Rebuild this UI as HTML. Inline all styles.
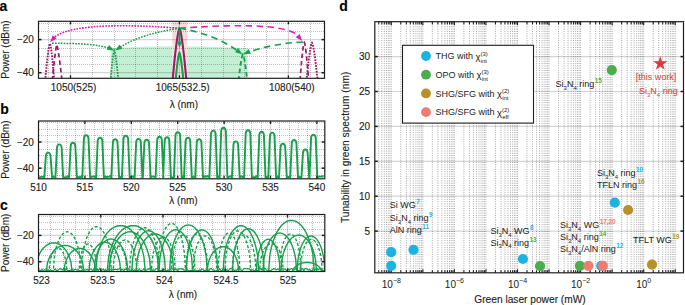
<!DOCTYPE html>
<html><head><meta charset="utf-8"><style>
html,body{margin:0;padding:0;background:#fff;overflow:hidden;width:685px;height:305px;}
svg{display:block;font-family:"Liberation Sans",sans-serif;} text{white-space:pre;} .t text, text{stroke-width:0.12px;}
</style></head><body>
<svg width="685" height="305" viewBox="0 0 685 305">
<defs>
<clipPath id="clipa"><rect x="38.5" y="21.3" width="286" height="57"/></clipPath>
<clipPath id="clipc"><rect x="38.5" y="214.5" width="286.3" height="57"/></clipPath>
</defs>
<rect width="685" height="305" fill="#fff"/>
<text x="-0.5" y="10.8" font-size="14" text-anchor="start" fill="#000" stroke="#000" font-weight="bold">a</text>
<text x="0.3" y="113.9" font-size="14" text-anchor="start" fill="#000" stroke="#000" font-weight="bold">b</text>
<text x="0" y="209.5" font-size="14" text-anchor="start" fill="#000" stroke="#000" font-weight="bold">c</text>
<text x="339.3" y="10.9" font-size="14" text-anchor="start" fill="#000" stroke="#000" font-weight="bold">d</text>
<rect x="172.2" y="21.3" width="15.2" height="57" fill="#f4dcdc"/>
<path d="M110.5 78.3 L110.5 48 Q179 44.2 247.5 48.3 L247.5 78.3 Z" fill="#c3efd4"/>
<rect x="172.2" y="44" width="15.2" height="34.3" fill="#f1e6df"/>
<line x1="48.5" y1="22" x2="48.5" y2="78.3" stroke="rgba(0,0,0,0.24)" stroke-width="1.0" stroke-dasharray="1 1"/>
<line x1="92.5" y1="22" x2="92.5" y2="78.3" stroke="rgba(0,0,0,0.24)" stroke-width="1.0" stroke-dasharray="1 1"/>
<line x1="114.5" y1="22" x2="114.5" y2="78.3" stroke="rgba(0,0,0,0.24)" stroke-width="1.0" stroke-dasharray="1 1"/>
<line x1="135.5" y1="22" x2="135.5" y2="78.3" stroke="rgba(0,0,0,0.24)" stroke-width="1.0" stroke-dasharray="1 1"/>
<line x1="157.5" y1="22" x2="157.5" y2="78.3" stroke="rgba(0,0,0,0.24)" stroke-width="1.0" stroke-dasharray="1 1"/>
<line x1="201.5" y1="22" x2="201.5" y2="78.3" stroke="rgba(0,0,0,0.24)" stroke-width="1.0" stroke-dasharray="1 1"/>
<line x1="223.5" y1="22" x2="223.5" y2="78.3" stroke="rgba(0,0,0,0.24)" stroke-width="1.0" stroke-dasharray="1 1"/>
<line x1="244.5" y1="22" x2="244.5" y2="78.3" stroke="rgba(0,0,0,0.24)" stroke-width="1.0" stroke-dasharray="1 1"/>
<line x1="266.5" y1="22" x2="266.5" y2="78.3" stroke="rgba(0,0,0,0.24)" stroke-width="1.0" stroke-dasharray="1 1"/>
<line x1="310.5" y1="22" x2="310.5" y2="78.3" stroke="rgba(0,0,0,0.24)" stroke-width="1.0" stroke-dasharray="1 1"/>
<line x1="39" y1="23.5" x2="324.5" y2="23.5" stroke="rgba(0,0,0,0.24)" stroke-width="1.0" stroke-dasharray="1 1"/>
<line x1="39" y1="31.5" x2="324.5" y2="31.5" stroke="rgba(0,0,0,0.24)" stroke-width="1.0" stroke-dasharray="1 1"/>
<line x1="39" y1="48.5" x2="324.5" y2="48.5" stroke="rgba(0,0,0,0.24)" stroke-width="1.0" stroke-dasharray="1 1"/>
<line x1="39" y1="56.5" x2="324.5" y2="56.5" stroke="rgba(0,0,0,0.24)" stroke-width="1.0" stroke-dasharray="1 1"/>
<line x1="39" y1="64.5" x2="324.5" y2="64.5" stroke="rgba(0,0,0,0.24)" stroke-width="1.0" stroke-dasharray="1 1"/>
<line x1="70.5" y1="21.3" x2="70.5" y2="78.3" stroke="rgba(0,0,0,0.17)" stroke-width="1.2" />
<line x1="179.44" y1="21.3" x2="179.44" y2="78.3" stroke="rgba(0,0,0,0.17)" stroke-width="1.2" />
<line x1="288.39" y1="21.3" x2="288.39" y2="78.3" stroke="rgba(0,0,0,0.17)" stroke-width="1.2" />
<line x1="38.5" y1="39.6" x2="324.5" y2="39.6" stroke="rgba(0,0,0,0.17)" stroke-width="1.2" />
<line x1="38.5" y1="72.7" x2="324.5" y2="72.7" stroke="rgba(0,0,0,0.17)" stroke-width="1.2" />
<g clip-path="url(#clipa)">
<path d="M172.6 80.5 L172.89 77.29 L173.17 74.15 L173.46 71.08 L173.75 68.08 L174.04 65.16 L174.32 62.31 L174.61 59.54 L174.9 56.85 L175.19 54.24 L175.47 51.72 L175.76 49.29 L176.05 46.95 L176.34 44.7 L176.62 42.56 L176.91 40.52 L177.2 38.59 L177.49 36.78 L177.78 35.09 L178.06 33.54 L178.35 32.13 L178.64 30.89 L178.93 29.85 L179.21 29.04 L179.5 28.6 L179.79 29.04 L180.07 29.85 L180.36 30.89 L180.65 32.13 L180.94 33.54 L181.22 35.09 L181.51 36.78 L181.8 38.59 L182.09 40.52 L182.38 42.56 L182.66 44.7 L182.95 46.95 L183.24 49.29 L183.53 51.72 L183.81 54.24 L184.1 56.85 L184.39 59.54 L184.68 62.31 L184.96 65.16 L185.25 68.08 L185.54 71.08 L185.83 74.15 L186.11 77.29 L186.4 80.5" stroke="#9a1b68" stroke-width="2.1" fill="none" />
<path d="M175.6 80.5 L175.76 78.79 L175.92 77.11 L176.07 75.47 L176.23 73.87 L176.39 72.31 L176.55 70.79 L176.71 69.31 L176.87 67.88 L177.03 66.49 L177.18 65.14 L177.34 63.84 L177.5 62.59 L177.66 61.4 L177.82 60.25 L177.97 59.16 L178.13 58.13 L178.29 57.16 L178.45 56.26 L178.61 55.43 L178.77 54.68 L178.93 54.02 L179.08 53.47 L179.24 53.04 L179.4 52.8 L179.57 53.04 L179.73 53.47 L179.9 54.02 L180.07 54.68 L180.23 55.43 L180.4 56.26 L180.57 57.16 L180.73 58.13 L180.9 59.16 L181.07 60.25 L181.23 61.4 L181.4 62.59 L181.57 63.84 L181.73 65.14 L181.9 66.49 L182.07 67.88 L182.23 69.31 L182.4 70.79 L182.57 72.31 L182.73 73.87 L182.9 75.47 L183.07 77.11 L183.23 78.79 L183.4 80.5" stroke="#17a04b" stroke-width="2.1" fill="none" />
<path d="M45.2 80.5 L45.4 78.22 L45.6 75.98 L45.8 73.8 L46 71.67 L46.2 69.59 L46.4 67.57 L46.6 65.6 L46.8 63.69 L47 61.83 L47.2 60.04 L47.4 58.31 L47.6 56.65 L47.8 55.05 L48 53.52 L48.2 52.07 L48.4 50.7 L48.6 49.41 L48.8 48.21 L49 47.11 L49.2 46.11 L49.4 45.23 L49.6 44.49 L49.8 43.91 L50 43.6 L50.17 43.91 L50.35 44.49 L50.52 45.23 L50.7 46.11 L50.88 47.11 L51.05 48.21 L51.23 49.41 L51.4 50.7 L51.58 52.07 L51.75 53.52 L51.93 55.05 L52.1 56.65 L52.27 58.31 L52.45 60.04 L52.62 61.83 L52.8 63.69 L52.98 65.6 L53.15 67.57 L53.33 69.59 L53.5 71.67 L53.68 73.8 L53.85 75.98 L54.03 78.22 L54.2 80.5" stroke="#9a1b68" stroke-width="1.9" fill="none" stroke-dasharray="1.7 1.2"/>
<path d="M52.3 80.5 L52.49 78.56 L52.67 76.65 L52.86 74.76 L53.05 72.9 L53.24 71.07 L53.42 69.27 L53.61 67.49 L53.8 65.75 L53.99 64.04 L54.17 62.36 L54.36 60.72 L54.55 59.12 L54.74 57.56 L54.92 56.04 L55.11 54.56 L55.3 53.13 L55.49 51.76 L55.67 50.44 L55.86 49.18 L56.05 48.01 L56.24 46.91 L56.42 45.92 L56.61 45.08 L56.8 44.5 L57.02 45.08 L57.23 45.92 L57.45 46.91 L57.67 48.01 L57.88 49.18 L58.1 50.44 L58.32 51.76 L58.53 53.13 L58.75 54.56 L58.97 56.04 L59.18 57.56 L59.4 59.12 L59.62 60.72 L59.83 62.36 L60.05 64.04 L60.27 65.75 L60.48 67.49 L60.7 69.27 L60.92 71.07 L61.13 72.9 L61.35 74.76 L61.57 76.65 L61.78 78.56 L62 80.5" stroke="#9a1b68" stroke-width="1.7" fill="none" stroke-dasharray="4.5 3"/>
<path d="M300 80.5 L300.18 78.14 L300.36 75.84 L300.54 73.58 L300.72 71.38 L300.9 69.24 L301.07 67.15 L301.25 65.11 L301.43 63.14 L301.61 61.23 L301.79 59.37 L301.97 57.59 L302.15 55.87 L302.33 54.22 L302.51 52.65 L302.69 51.15 L302.87 49.73 L303.05 48.4 L303.23 47.16 L303.4 46.02 L303.58 44.99 L303.76 44.08 L303.94 43.32 L304.12 42.72 L304.3 42.4 L304.48 42.72 L304.66 43.32 L304.84 44.08 L305.02 44.99 L305.2 46.02 L305.38 47.16 L305.55 48.4 L305.73 49.73 L305.91 51.15 L306.09 52.65 L306.27 54.22 L306.45 55.87 L306.63 57.59 L306.81 59.37 L306.99 61.23 L307.17 63.14 L307.35 65.11 L307.53 67.15 L307.7 69.24 L307.88 71.38 L308.06 73.58 L308.24 75.84 L308.42 78.14 L308.6 80.5" stroke="#9a1b68" stroke-width="1.7" fill="none" stroke-dasharray="4.5 3"/>
<path d="M306.5 80.5 L306.73 78.17 L306.96 75.89 L307.19 73.66 L307.42 71.48 L307.65 69.36 L307.88 67.29 L308.1 65.27 L308.33 63.32 L308.56 61.43 L308.79 59.6 L309.02 57.83 L309.25 56.13 L309.48 54.5 L309.71 52.94 L309.94 51.46 L310.17 50.06 L310.4 48.74 L310.62 47.51 L310.85 46.38 L311.08 45.37 L311.31 44.47 L311.54 43.71 L311.77 43.12 L312 42.8 L312.23 43.12 L312.47 43.71 L312.7 44.47 L312.93 45.37 L313.17 46.38 L313.4 47.51 L313.63 48.74 L313.87 50.06 L314.1 51.46 L314.33 52.94 L314.57 54.5 L314.8 56.13 L315.03 57.83 L315.27 59.6 L315.5 61.43 L315.73 63.32 L315.97 65.27 L316.2 67.29 L316.43 69.36 L316.67 71.48 L316.9 73.66 L317.13 75.89 L317.37 78.17 L317.6 80.5" stroke="#9a1b68" stroke-width="1.9" fill="none" stroke-dasharray="1.7 1.2"/>
<path d="M110.6 80.5 L110.75 78.64 L110.91 76.83 L111.06 75.05 L111.22 73.32 L111.37 71.63 L111.52 69.99 L111.68 68.38 L111.83 66.83 L111.99 65.32 L112.14 63.87 L112.3 62.46 L112.45 61.11 L112.6 59.81 L112.76 58.57 L112.91 57.39 L113.07 56.27 L113.22 55.23 L113.38 54.25 L113.53 53.35 L113.68 52.54 L113.84 51.83 L113.99 51.22 L114.15 50.76 L114.3 50.5 L114.47 50.76 L114.64 51.22 L114.81 51.83 L114.98 52.54 L115.15 53.35 L115.33 54.25 L115.5 55.23 L115.67 56.27 L115.84 57.39 L116.01 58.57 L116.18 59.81 L116.35 61.11 L116.52 62.46 L116.69 63.87 L116.86 65.32 L117.03 66.83 L117.2 68.38 L117.38 69.99 L117.55 71.63 L117.72 73.32 L117.89 75.05 L118.06 76.83 L118.23 78.64 L118.4 80.5" stroke="#17a04b" stroke-width="1.8" fill="none" stroke-dasharray="1.7 1.2"/>
<path d="M238.6 80.5 L238.78 78.87 L238.96 77.28 L239.14 75.73 L239.32 74.21 L239.5 72.73 L239.68 71.28 L239.85 69.88 L240.03 68.52 L240.21 67.19 L240.39 65.92 L240.57 64.68 L240.75 63.5 L240.93 62.36 L241.11 61.27 L241.29 60.24 L241.47 59.26 L241.65 58.34 L241.82 57.49 L242 56.7 L242.18 55.99 L242.36 55.36 L242.54 54.83 L242.72 54.42 L242.9 54.2 L243.08 54.42 L243.26 54.83 L243.44 55.36 L243.62 55.99 L243.8 56.7 L243.97 57.49 L244.15 58.34 L244.33 59.26 L244.51 60.24 L244.69 61.27 L244.87 62.36 L245.05 63.5 L245.23 64.68 L245.41 65.92 L245.59 67.19 L245.77 68.52 L245.95 69.88 L246.12 71.28 L246.3 72.73 L246.48 74.21 L246.66 75.73 L246.84 77.28 L247.02 78.87 L247.2 80.5" stroke="#17a04b" stroke-width="1.8" fill="none" stroke-dasharray="4.5 3"/>
</g>
<path d="M179.5 28.3 C140 25.2, 70 21.8, 53 38.5" stroke="#e01cb8" stroke-width="1.6" fill="none" stroke-dasharray="1.7 1.2"/>
<path d="M50.2 42.2 L52.72 35.17 L56.7 38.52 Z" fill="#e01cb8"/>
<path d="M179.5 28.3 C220 25.2, 290 21.8, 299.5 37.5" stroke="#e01cb8" stroke-width="1.6" fill="none" stroke-dasharray="6.5 4.5"/>
<path d="M302.2 41 L295.68 37.37 L299.63 33.99 Z" fill="#e01cb8"/>
<path d="M52 43.3 C80 43.3, 98 44.3, 110.5 48.5" stroke="#17a04b" stroke-width="1.5" fill="none" stroke-dasharray="1.7 1.2"/>
<path d="M114.2 50.5 L106.77 49.77 L109.05 45.09 Z" fill="#17a04b"/>
<path d="M179.5 28.3 C158 31.5, 135 37, 119 48" stroke="#17a04b" stroke-width="1.5" fill="none" stroke-dasharray="1.7 1.2"/>
<path d="M115.2 50.6 L119.42 44.44 L122.42 48.69 Z" fill="#17a04b"/>
<path d="M179.5 28.3 C203 32, 223 40, 238.5 51.5" stroke="#17a04b" stroke-width="1.6" fill="none" stroke-dasharray="6.5 4.5"/>
<path d="M242.3 54.3 L235.1 52.32 L238.14 48.1 Z" fill="#17a04b"/>
<path d="M303 42 C282 43, 262 47, 248 52.5" stroke="#17a04b" stroke-width="1.6" fill="none" stroke-dasharray="6.5 4.5"/>
<path d="M243.4 54.3 L248.67 49.01 L250.85 53.73 Z" fill="#17a04b"/>
<line x1="179.5" y1="30" x2="179.5" y2="43" stroke="#17a04b" stroke-width="1.8" />
<path d="M179.5 47.8 L176.9 41.6 L182.1 41.6 Z" fill="#17a04b"/>
<line x1="70.5" y1="78.3" x2="70.5" y2="75.3" stroke="#1e1e1e" stroke-width="1.3" />
<line x1="70.5" y1="21.3" x2="70.5" y2="24.3" stroke="#1e1e1e" stroke-width="1.3" />
<line x1="179.44" y1="78.3" x2="179.44" y2="75.3" stroke="#1e1e1e" stroke-width="1.3" />
<line x1="179.44" y1="21.3" x2="179.44" y2="24.3" stroke="#1e1e1e" stroke-width="1.3" />
<line x1="288.39" y1="78.3" x2="288.39" y2="75.3" stroke="#1e1e1e" stroke-width="1.3" />
<line x1="288.39" y1="21.3" x2="288.39" y2="24.3" stroke="#1e1e1e" stroke-width="1.3" />
<line x1="38.5" y1="39.6" x2="41.5" y2="39.6" stroke="#1e1e1e" stroke-width="1.5" />
<line x1="324.5" y1="39.6" x2="321.5" y2="39.6" stroke="#1e1e1e" stroke-width="1.5" />
<line x1="38.5" y1="72.7" x2="41.5" y2="72.7" stroke="#1e1e1e" stroke-width="1.5" />
<line x1="324.5" y1="72.7" x2="321.5" y2="72.7" stroke="#1e1e1e" stroke-width="1.5" />
<rect x="38.5" y="21.3" width="286" height="57" fill="none" stroke="#1e1e1e" stroke-width="1.2"/>
<text x="33.9" y="43.4" font-size="10" text-anchor="end" fill="#222" stroke="#222" >−20</text>
<text x="33.9" y="76.2" font-size="10" text-anchor="end" fill="#222" stroke="#222" >−40</text>
<text x="73.6" y="91.2" font-size="10" text-anchor="middle" fill="#222" stroke="#222" >1050(525)</text>
<text x="182.7" y="91.4" font-size="10" text-anchor="middle" fill="#222" stroke="#222" >1065(532.5)</text>
<text x="291.8" y="91.4" font-size="10" text-anchor="middle" fill="#222" stroke="#222" >1080(540)</text>
<text x="183.8" y="107.6" font-size="10" text-anchor="middle" fill="#222" stroke="#222" >λ (nm)</text>
<text x="0" y="0" font-size="10" text-anchor="middle" fill="#222" stroke="#222" transform="translate(9.4 49.6) rotate(-90)">Power (dBm)</text>
<line x1="47.5" y1="121" x2="47.5" y2="178.8" stroke="rgba(0,0,0,0.24)" stroke-width="1.0" stroke-dasharray="1 1"/>
<line x1="57.5" y1="121" x2="57.5" y2="178.8" stroke="rgba(0,0,0,0.24)" stroke-width="1.0" stroke-dasharray="1 1"/>
<line x1="66.5" y1="121" x2="66.5" y2="178.8" stroke="rgba(0,0,0,0.24)" stroke-width="1.0" stroke-dasharray="1 1"/>
<line x1="75.5" y1="121" x2="75.5" y2="178.8" stroke="rgba(0,0,0,0.24)" stroke-width="1.0" stroke-dasharray="1 1"/>
<line x1="94.5" y1="121" x2="94.5" y2="178.8" stroke="rgba(0,0,0,0.24)" stroke-width="1.0" stroke-dasharray="1 1"/>
<line x1="103.5" y1="121" x2="103.5" y2="178.8" stroke="rgba(0,0,0,0.24)" stroke-width="1.0" stroke-dasharray="1 1"/>
<line x1="112.5" y1="121" x2="112.5" y2="178.8" stroke="rgba(0,0,0,0.24)" stroke-width="1.0" stroke-dasharray="1 1"/>
<line x1="122.5" y1="121" x2="122.5" y2="178.8" stroke="rgba(0,0,0,0.24)" stroke-width="1.0" stroke-dasharray="1 1"/>
<line x1="140.5" y1="121" x2="140.5" y2="178.8" stroke="rgba(0,0,0,0.24)" stroke-width="1.0" stroke-dasharray="1 1"/>
<line x1="149.5" y1="121" x2="149.5" y2="178.8" stroke="rgba(0,0,0,0.24)" stroke-width="1.0" stroke-dasharray="1 1"/>
<line x1="159.5" y1="121" x2="159.5" y2="178.8" stroke="rgba(0,0,0,0.24)" stroke-width="1.0" stroke-dasharray="1 1"/>
<line x1="168.5" y1="121" x2="168.5" y2="178.8" stroke="rgba(0,0,0,0.24)" stroke-width="1.0" stroke-dasharray="1 1"/>
<line x1="186.5" y1="121" x2="186.5" y2="178.8" stroke="rgba(0,0,0,0.24)" stroke-width="1.0" stroke-dasharray="1 1"/>
<line x1="196.5" y1="121" x2="196.5" y2="178.8" stroke="rgba(0,0,0,0.24)" stroke-width="1.0" stroke-dasharray="1 1"/>
<line x1="205.5" y1="121" x2="205.5" y2="178.8" stroke="rgba(0,0,0,0.24)" stroke-width="1.0" stroke-dasharray="1 1"/>
<line x1="214.5" y1="121" x2="214.5" y2="178.8" stroke="rgba(0,0,0,0.24)" stroke-width="1.0" stroke-dasharray="1 1"/>
<line x1="233.5" y1="121" x2="233.5" y2="178.8" stroke="rgba(0,0,0,0.24)" stroke-width="1.0" stroke-dasharray="1 1"/>
<line x1="242.5" y1="121" x2="242.5" y2="178.8" stroke="rgba(0,0,0,0.24)" stroke-width="1.0" stroke-dasharray="1 1"/>
<line x1="251.5" y1="121" x2="251.5" y2="178.8" stroke="rgba(0,0,0,0.24)" stroke-width="1.0" stroke-dasharray="1 1"/>
<line x1="261.5" y1="121" x2="261.5" y2="178.8" stroke="rgba(0,0,0,0.24)" stroke-width="1.0" stroke-dasharray="1 1"/>
<line x1="279.5" y1="121" x2="279.5" y2="178.8" stroke="rgba(0,0,0,0.24)" stroke-width="1.0" stroke-dasharray="1 1"/>
<line x1="289.5" y1="121" x2="289.5" y2="178.8" stroke="rgba(0,0,0,0.24)" stroke-width="1.0" stroke-dasharray="1 1"/>
<line x1="298.5" y1="121" x2="298.5" y2="178.8" stroke="rgba(0,0,0,0.24)" stroke-width="1.0" stroke-dasharray="1 1"/>
<line x1="307.5" y1="121" x2="307.5" y2="178.8" stroke="rgba(0,0,0,0.24)" stroke-width="1.0" stroke-dasharray="1 1"/>
<line x1="39" y1="122.5" x2="324.8" y2="122.5" stroke="rgba(0,0,0,0.24)" stroke-width="1.0" stroke-dasharray="1 1"/>
<line x1="39" y1="129.5" x2="324.8" y2="129.5" stroke="rgba(0,0,0,0.24)" stroke-width="1.0" stroke-dasharray="1 1"/>
<line x1="39" y1="135.5" x2="324.8" y2="135.5" stroke="rgba(0,0,0,0.24)" stroke-width="1.0" stroke-dasharray="1 1"/>
<line x1="39" y1="149.5" x2="324.8" y2="149.5" stroke="rgba(0,0,0,0.24)" stroke-width="1.0" stroke-dasharray="1 1"/>
<line x1="39" y1="155.5" x2="324.8" y2="155.5" stroke="rgba(0,0,0,0.24)" stroke-width="1.0" stroke-dasharray="1 1"/>
<line x1="39" y1="162.5" x2="324.8" y2="162.5" stroke="rgba(0,0,0,0.24)" stroke-width="1.0" stroke-dasharray="1 1"/>
<line x1="39" y1="175.5" x2="324.8" y2="175.5" stroke="rgba(0,0,0,0.24)" stroke-width="1.0" stroke-dasharray="1 1"/>
<line x1="84.9" y1="121" x2="84.9" y2="178.8" stroke="rgba(0,0,0,0.17)" stroke-width="1.2" />
<line x1="131.3" y1="121" x2="131.3" y2="178.8" stroke="rgba(0,0,0,0.17)" stroke-width="1.2" />
<line x1="177.7" y1="121" x2="177.7" y2="178.8" stroke="rgba(0,0,0,0.17)" stroke-width="1.2" />
<line x1="224.1" y1="121" x2="224.1" y2="178.8" stroke="rgba(0,0,0,0.17)" stroke-width="1.2" />
<line x1="270.5" y1="121" x2="270.5" y2="178.8" stroke="rgba(0,0,0,0.17)" stroke-width="1.2" />
<line x1="316.9" y1="121" x2="316.9" y2="178.8" stroke="rgba(0,0,0,0.17)" stroke-width="1.2" />
<line x1="38.5" y1="142" x2="324.8" y2="142" stroke="rgba(0,0,0,0.17)" stroke-width="1.2" />
<line x1="38.5" y1="168.2" x2="324.8" y2="168.2" stroke="rgba(0,0,0,0.17)" stroke-width="1.2" />
<path d="M38.5 177.4 L40.1 177.09 L41.7 176.69 L43.3 176.92 L44.3 177.6 L45.9 155.6 Q46.3 152.6 48.2 152.6 Q50.1 152.6 50.5 155.6 L52.1 177.6 L53.7 176.61 L55.3 176.59 L55.4 177.6 L57 147.4 Q57.4 144.4 59.3 144.4 Q61.2 144.4 61.6 147.4 L63.2 177.6 L64.8 177.31 L66.4 177.38 L68 176.31 L69.1 177.6 L70.7 145.8 Q71.1 142.8 73 142.8 Q74.9 142.8 75.3 145.8 L76.9 177.6 L78.5 177.06 L80.1 177.1 L81.7 176.11 L82.3 177.6 L83.9 138.3 Q84.3 135.3 86.2 135.3 Q88.1 135.3 88.5 138.3 L90.1 177.6 L91.7 176.79 L93.3 176.31 L94.9 176.78 L96.1 177.6 L97.7 140.7 Q98.1 137.7 100 137.7 Q101.9 137.7 102.3 140.7 L103.9 177.6 L105.5 176.57 L107.1 177.2 L108.7 176.57 L110.3 176.27 L111.3 177.6 L112.9 142.3 Q113.3 139.3 115.2 139.3 Q117.1 139.3 117.5 142.3 L119.1 177.6 L120.7 176.72 L121.9 177.6 L123.5 138.7 Q123.9 135.7 125.8 135.7 Q127.7 135.7 128.1 138.7 L129.7 177.6 L131.3 176.44 L132.9 176.53 L134.5 177.32 L134.6 177.6 L136.2 141.9 Q136.6 138.9 138.5 138.9 Q140.4 138.9 140.8 141.9 L142.4 177.6 L142.8 177.6 L144.4 142.7 Q144.8 139.7 146.7 139.7 Q148.6 139.7 149 142.7 L150.6 177.6 L152.2 176.41 L153.8 176.63 L155.4 177.01 L155.6 177.6 L157.2 139.7 Q157.6 136.7 159.5 136.7 Q161.4 136.7 161.8 139.7 L163.4 177.6 L163.1 177.6 L164.7 140.3 Q165.1 137.3 167 137.3 Q168.9 137.3 169.3 140.3 L170.9 177.6 L172.5 177.36 L173.9 177.6 L175.5 135.2 Q175.9 132.2 177.8 132.2 Q179.7 132.2 180.1 135.2 L181.7 177.6 L183.3 176.27 L184 177.6 L185.6 140.7 Q186 137.7 187.9 137.7 Q189.8 137.7 190.2 140.7 L191.8 177.6 L193.4 176.79 L195 176.47 L195.2 177.6 L196.8 142.3 Q197.2 139.3 199.1 139.3 Q201 139.3 201.4 142.3 L203 177.6 L204.6 176.26 L206.2 176.47 L207.8 176.2 L209.4 176.89 L209.4 177.6 L211 133.6 Q211.4 130.6 213.3 130.6 Q215.2 130.6 215.6 133.6 L217.2 177.6 L218.8 176.36 L219.6 177.6 L221.2 130.8 Q221.6 127.8 223.5 127.8 Q225.4 127.8 225.8 130.8 L227.4 177.6 L229 176.82 L230.6 176.18 L231.9 177.6 L233.5 144.4 Q233.9 141.4 235.8 141.4 Q237.7 141.4 238.1 144.4 L239.7 177.6 L241.3 176.26 L242.9 177.27 L244.1 177.6 L245.7 133.2 Q246.1 130.2 248 130.2 Q249.9 130.2 250.3 133.2 L251.9 177.6 L253.5 177.22 L255.1 177.12 L256.7 176.14 L257.7 177.6 L259.3 134.8 Q259.7 131.8 261.6 131.8 Q263.5 131.8 263.9 134.8 L265.5 177.6 L267.1 176.83 L268.3 177.6 L269.9 135.6 Q270.3 132.6 272.2 132.6 Q274.1 132.6 274.5 135.6 L276.1 177.6 L277.7 176.59 L279 177.6 L280.6 146.8 Q281 143.8 282.9 143.8 Q284.8 143.8 285.2 146.8 L286.8 177.6 L288.4 177.01 L290 176.74 L290.2 177.6 L291.8 143 Q292.2 140 294.1 140 Q296 140 296.4 143 L298 177.6 L299.6 176.9 L301.2 176.94 L301.4 177.6 L303 152.5 Q303.4 149.5 305.3 149.5 Q307.2 149.5 307.6 152.5 L309.2 177.6 L309.5 177.6 L311.1 137.7 Q311.5 134.7 313.4 134.7 Q315.3 134.7 315.7 137.7 L317.3 177.6 L318.9 176.64 L320.5 176.64 L322.1 176.22 L323.7 176.51" stroke="#17a04b" stroke-width="1.9" fill="none" stroke-linejoin="round"/>
<line x1="84.9" y1="178.8" x2="84.9" y2="175.8" stroke="#1e1e1e" stroke-width="1.3" />
<line x1="84.9" y1="121" x2="84.9" y2="124" stroke="#1e1e1e" stroke-width="1.3" />
<line x1="131.3" y1="178.8" x2="131.3" y2="175.8" stroke="#1e1e1e" stroke-width="1.3" />
<line x1="131.3" y1="121" x2="131.3" y2="124" stroke="#1e1e1e" stroke-width="1.3" />
<line x1="177.7" y1="178.8" x2="177.7" y2="175.8" stroke="#1e1e1e" stroke-width="1.3" />
<line x1="177.7" y1="121" x2="177.7" y2="124" stroke="#1e1e1e" stroke-width="1.3" />
<line x1="224.1" y1="178.8" x2="224.1" y2="175.8" stroke="#1e1e1e" stroke-width="1.3" />
<line x1="224.1" y1="121" x2="224.1" y2="124" stroke="#1e1e1e" stroke-width="1.3" />
<line x1="270.5" y1="178.8" x2="270.5" y2="175.8" stroke="#1e1e1e" stroke-width="1.3" />
<line x1="270.5" y1="121" x2="270.5" y2="124" stroke="#1e1e1e" stroke-width="1.3" />
<line x1="316.9" y1="178.8" x2="316.9" y2="175.8" stroke="#1e1e1e" stroke-width="1.3" />
<line x1="316.9" y1="121" x2="316.9" y2="124" stroke="#1e1e1e" stroke-width="1.3" />
<line x1="38.5" y1="142" x2="41.5" y2="142" stroke="#1e1e1e" stroke-width="1.5" />
<line x1="324.8" y1="142" x2="321.8" y2="142" stroke="#1e1e1e" stroke-width="1.5" />
<line x1="38.5" y1="168.2" x2="41.5" y2="168.2" stroke="#1e1e1e" stroke-width="1.5" />
<line x1="324.8" y1="168.2" x2="321.8" y2="168.2" stroke="#1e1e1e" stroke-width="1.5" />
<rect x="38.5" y="121" width="286.3" height="57.8" fill="none" stroke="#1e1e1e" stroke-width="1.2"/>
<text x="33.9" y="145.6" font-size="10" text-anchor="end" fill="#222" stroke="#222" >−20</text>
<text x="33.9" y="171.8" font-size="10" text-anchor="end" fill="#222" stroke="#222" >−40</text>
<text x="38.5" y="190.6" font-size="10" text-anchor="middle" fill="#222" stroke="#222" >510</text>
<text x="84.9" y="190.6" font-size="10" text-anchor="middle" fill="#222" stroke="#222" >515</text>
<text x="131.3" y="190.6" font-size="10" text-anchor="middle" fill="#222" stroke="#222" >520</text>
<text x="177.7" y="190.6" font-size="10" text-anchor="middle" fill="#222" stroke="#222" >525</text>
<text x="224.1" y="190.6" font-size="10" text-anchor="middle" fill="#222" stroke="#222" >530</text>
<text x="270.5" y="190.6" font-size="10" text-anchor="middle" fill="#222" stroke="#222" >535</text>
<text x="316.9" y="190.6" font-size="10" text-anchor="middle" fill="#222" stroke="#222" >540</text>
<text x="183.5" y="203.9" font-size="10" text-anchor="middle" fill="#222" stroke="#222" >λ (nm)</text>
<text x="0" y="0" font-size="10" text-anchor="middle" fill="#222" stroke="#222" transform="translate(9.4 149.7) rotate(-90)">Power (dBm)</text>
<line x1="50.5" y1="215" x2="50.5" y2="271.5" stroke="rgba(0,0,0,0.24)" stroke-width="1.0" stroke-dasharray="1 1"/>
<line x1="63.5" y1="215" x2="63.5" y2="271.5" stroke="rgba(0,0,0,0.24)" stroke-width="1.0" stroke-dasharray="1 1"/>
<line x1="75.5" y1="215" x2="75.5" y2="271.5" stroke="rgba(0,0,0,0.24)" stroke-width="1.0" stroke-dasharray="1 1"/>
<line x1="88.5" y1="215" x2="88.5" y2="271.5" stroke="rgba(0,0,0,0.24)" stroke-width="1.0" stroke-dasharray="1 1"/>
<line x1="113.5" y1="215" x2="113.5" y2="271.5" stroke="rgba(0,0,0,0.24)" stroke-width="1.0" stroke-dasharray="1 1"/>
<line x1="125.5" y1="215" x2="125.5" y2="271.5" stroke="rgba(0,0,0,0.24)" stroke-width="1.0" stroke-dasharray="1 1"/>
<line x1="138.5" y1="215" x2="138.5" y2="271.5" stroke="rgba(0,0,0,0.24)" stroke-width="1.0" stroke-dasharray="1 1"/>
<line x1="150.5" y1="215" x2="150.5" y2="271.5" stroke="rgba(0,0,0,0.24)" stroke-width="1.0" stroke-dasharray="1 1"/>
<line x1="175.5" y1="215" x2="175.5" y2="271.5" stroke="rgba(0,0,0,0.24)" stroke-width="1.0" stroke-dasharray="1 1"/>
<line x1="187.5" y1="215" x2="187.5" y2="271.5" stroke="rgba(0,0,0,0.24)" stroke-width="1.0" stroke-dasharray="1 1"/>
<line x1="200.5" y1="215" x2="200.5" y2="271.5" stroke="rgba(0,0,0,0.24)" stroke-width="1.0" stroke-dasharray="1 1"/>
<line x1="212.5" y1="215" x2="212.5" y2="271.5" stroke="rgba(0,0,0,0.24)" stroke-width="1.0" stroke-dasharray="1 1"/>
<line x1="237.5" y1="215" x2="237.5" y2="271.5" stroke="rgba(0,0,0,0.24)" stroke-width="1.0" stroke-dasharray="1 1"/>
<line x1="250.5" y1="215" x2="250.5" y2="271.5" stroke="rgba(0,0,0,0.24)" stroke-width="1.0" stroke-dasharray="1 1"/>
<line x1="262.5" y1="215" x2="262.5" y2="271.5" stroke="rgba(0,0,0,0.24)" stroke-width="1.0" stroke-dasharray="1 1"/>
<line x1="275.5" y1="215" x2="275.5" y2="271.5" stroke="rgba(0,0,0,0.24)" stroke-width="1.0" stroke-dasharray="1 1"/>
<line x1="299.5" y1="215" x2="299.5" y2="271.5" stroke="rgba(0,0,0,0.24)" stroke-width="1.0" stroke-dasharray="1 1"/>
<line x1="312.5" y1="215" x2="312.5" y2="271.5" stroke="rgba(0,0,0,0.24)" stroke-width="1.0" stroke-dasharray="1 1"/>
<line x1="39" y1="216.5" x2="324.8" y2="216.5" stroke="rgba(0,0,0,0.24)" stroke-width="1.0" stroke-dasharray="1 1"/>
<line x1="39" y1="222.5" x2="324.8" y2="222.5" stroke="rgba(0,0,0,0.24)" stroke-width="1.0" stroke-dasharray="1 1"/>
<line x1="39" y1="229.5" x2="324.8" y2="229.5" stroke="rgba(0,0,0,0.24)" stroke-width="1.0" stroke-dasharray="1 1"/>
<line x1="39" y1="242.5" x2="324.8" y2="242.5" stroke="rgba(0,0,0,0.24)" stroke-width="1.0" stroke-dasharray="1 1"/>
<line x1="39" y1="249.5" x2="324.8" y2="249.5" stroke="rgba(0,0,0,0.24)" stroke-width="1.0" stroke-dasharray="1 1"/>
<line x1="39" y1="255.5" x2="324.8" y2="255.5" stroke="rgba(0,0,0,0.24)" stroke-width="1.0" stroke-dasharray="1 1"/>
<line x1="39" y1="268.5" x2="324.8" y2="268.5" stroke="rgba(0,0,0,0.24)" stroke-width="1.0" stroke-dasharray="1 1"/>
<line x1="100.75" y1="214.5" x2="100.75" y2="271.5" stroke="rgba(0,0,0,0.17)" stroke-width="1.2" />
<line x1="163" y1="214.5" x2="163" y2="271.5" stroke="rgba(0,0,0,0.17)" stroke-width="1.2" />
<line x1="225.25" y1="214.5" x2="225.25" y2="271.5" stroke="rgba(0,0,0,0.17)" stroke-width="1.2" />
<line x1="287.5" y1="214.5" x2="287.5" y2="271.5" stroke="rgba(0,0,0,0.17)" stroke-width="1.2" />
<line x1="38.5" y1="235.4" x2="324.8" y2="235.4" stroke="rgba(0,0,0,0.17)" stroke-width="1.2" />
<line x1="38.5" y1="261.7" x2="324.8" y2="261.7" stroke="rgba(0,0,0,0.17)" stroke-width="1.2" />
<g clip-path="url(#clipc)">
<path d="M35.2 273.5 L36.43 262.51 L37.67 258.23 L38.9 255.14 L40.13 252.7 L41.37 250.69 L42.6 249.02 L43.83 247.62 L45.07 246.44 L46.3 245.45 L47.53 244.65 L48.77 244.01 L50 243.52 L51.23 243.17 L52.47 242.97 L53.7 242.9 L54.93 242.97 L56.17 243.17 L57.4 243.52 L58.63 244.01 L59.87 244.65 L61.1 245.45 L62.33 246.44 L63.57 247.62 L64.8 249.02 L66.03 250.69 L67.27 252.7 L68.5 255.14 L69.73 258.23 L70.97 262.51 L72.2 273.5" stroke="#17a04b" stroke-width="1.4" fill="none" />
<path d="M46.1 273.5 L47.37 263.41 L48.63 259.48 L49.9 256.64 L51.17 254.4 L52.43 252.56 L53.7 251.02 L54.97 249.73 L56.23 248.65 L57.5 247.75 L58.77 247.01 L60.03 246.42 L61.3 245.97 L62.57 245.65 L63.83 245.46 L65.1 245.4 L66.37 245.46 L67.63 245.65 L68.9 245.97 L70.17 246.42 L71.43 247.01 L72.7 247.75 L73.97 248.65 L75.23 249.73 L76.5 251.02 L77.77 252.56 L79.03 254.4 L80.3 256.64 L81.57 259.48 L82.83 263.41 L84.1 273.5" stroke="#17a04b" stroke-width="1.4" fill="none" />
<path d="M63.8 273.5 L64.87 264.52 L65.93 261.03 L67 258.5 L68.07 256.5 L69.13 254.87 L70.2 253.5 L71.27 252.35 L72.33 251.39 L73.4 250.59 L74.47 249.93 L75.53 249.41 L76.6 249.01 L77.67 248.72 L78.73 248.56 L79.8 248.5 L80.87 248.56 L81.93 248.72 L83 249.01 L84.07 249.41 L85.13 249.93 L86.2 250.59 L87.27 251.39 L88.33 252.35 L89.4 253.5 L90.47 254.87 L91.53 256.5 L92.6 258.5 L93.67 261.03 L94.73 264.52 L95.8 273.5" stroke="#17a04b" stroke-width="1.4" fill="none" />
<path d="M88.8 273.5 L89.87 262.3 L90.93 257.93 L92 254.78 L93.07 252.29 L94.13 250.24 L95.2 248.54 L96.27 247.11 L97.33 245.91 L98.4 244.9 L99.47 244.08 L100.53 243.43 L101.6 242.93 L102.67 242.58 L103.73 242.37 L104.8 242.3 L105.87 242.37 L106.93 242.58 L108 242.93 L109.07 243.43 L110.13 244.08 L111.2 244.9 L112.27 245.91 L113.33 247.11 L114.4 248.54 L115.47 250.24 L116.53 252.29 L117.6 254.78 L118.67 257.93 L119.73 262.3 L120.8 273.5" stroke="#17a04b" stroke-width="1.4" fill="none" />
<path d="M95.5 273.5 L97.17 256.3 L98.83 249.6 L100.5 244.76 L102.17 240.93 L103.83 237.8 L105.5 235.18 L107.17 232.98 L108.83 231.14 L110.5 229.6 L112.17 228.34 L113.83 227.33 L115.5 226.57 L117.17 226.03 L118.83 225.71 L120.5 225.6 L122.17 225.71 L123.83 226.03 L125.5 226.57 L127.17 227.33 L128.83 228.34 L130.5 229.6 L132.17 231.14 L133.83 232.98 L135.5 235.18 L137.17 237.8 L138.83 240.93 L140.5 244.76 L142.17 249.6 L143.83 256.3 L145.5 273.5" stroke="#17a04b" stroke-width="1.4" fill="none" />
<path d="M107 273.5 L108.73 256.3 L110.47 249.6 L112.2 244.76 L113.93 240.93 L115.67 237.8 L117.4 235.18 L119.13 232.98 L120.87 231.14 L122.6 229.6 L124.33 228.34 L126.07 227.33 L127.8 226.57 L129.53 226.03 L131.27 225.71 L133 225.6 L134.73 225.71 L136.47 226.03 L138.2 226.57 L139.93 227.33 L141.67 228.34 L143.4 229.6 L145.13 231.14 L146.87 232.98 L148.6 235.18 L150.33 237.8 L152.07 240.93 L153.8 244.76 L155.53 249.6 L157.27 256.3 L159 273.5" stroke="#17a04b" stroke-width="1.4" fill="none" />
<path d="M94 273.5 L95.13 261.11 L96.27 256.29 L97.4 252.8 L98.53 250.04 L99.67 247.79 L100.8 245.9 L101.93 244.32 L103.07 242.99 L104.2 241.88 L105.33 240.97 L106.47 240.25 L107.6 239.7 L108.73 239.31 L109.87 239.08 L111 239 L112.13 239.08 L113.27 239.31 L114.4 239.7 L115.53 240.25 L116.67 240.97 L117.8 241.88 L118.93 242.99 L120.07 244.32 L121.2 245.9 L122.33 247.79 L123.47 250.04 L124.6 252.8 L125.73 256.29 L126.87 261.11 L128 273.5" stroke="#17a04b" stroke-width="1.4" fill="none" />
<path d="M108.9 273.5 L110.3 258.53 L111.7 252.7 L113.1 248.48 L114.5 245.15 L115.9 242.42 L117.3 240.14 L118.7 238.23 L120.1 236.62 L121.5 235.28 L122.9 234.18 L124.3 233.31 L125.7 232.64 L127.1 232.17 L128.5 231.89 L129.9 231.8 L131.3 231.89 L132.7 232.17 L134.1 232.64 L135.5 233.31 L136.9 234.18 L138.3 235.28 L139.7 236.62 L141.1 238.23 L142.5 240.14 L143.9 242.42 L145.3 245.15 L146.7 248.48 L148.1 252.7 L149.5 258.53 L150.9 273.5" stroke="#17a04b" stroke-width="1.4" fill="none" />
<path d="M131.6 273.5 L132.73 258.17 L133.87 252.2 L135 247.88 L136.13 244.47 L137.27 241.67 L138.4 239.34 L139.53 237.38 L140.67 235.73 L141.8 234.36 L142.93 233.24 L144.07 232.35 L145.2 231.66 L146.33 231.18 L147.47 230.89 L148.6 230.8 L149.73 230.89 L150.87 231.18 L152 231.66 L153.13 232.35 L154.27 233.24 L155.4 234.36 L156.53 235.73 L157.67 237.38 L158.8 239.34 L159.93 241.67 L161.07 244.47 L162.2 247.88 L163.33 252.2 L164.47 258.17 L165.6 273.5" stroke="#17a04b" stroke-width="1.4" fill="none" />
<path d="M135.9 273.5 L137.17 259.28 L138.43 253.74 L139.7 249.74 L140.97 246.58 L142.23 243.98 L143.5 241.82 L144.77 240 L146.03 238.48 L147.3 237.21 L148.57 236.16 L149.83 235.33 L151.1 234.7 L152.37 234.25 L153.63 233.99 L154.9 233.9 L156.17 233.99 L157.43 234.25 L158.7 234.7 L159.97 235.33 L161.23 236.16 L162.5 237.21 L163.77 238.48 L165.03 240 L166.3 241.82 L167.57 243.98 L168.83 246.58 L170.1 249.74 L171.37 253.74 L172.63 259.28 L173.9 273.5" stroke="#17a04b" stroke-width="1.4" fill="none" />
<path d="M158.8 273.5 L159.93 257.78 L161.07 251.65 L162.2 247.22 L163.33 243.72 L164.47 240.85 L165.6 238.46 L166.73 236.45 L167.87 234.76 L169 233.36 L170.13 232.2 L171.27 231.29 L172.4 230.58 L173.53 230.09 L174.67 229.8 L175.8 229.7 L176.93 229.8 L178.07 230.09 L179.2 230.58 L180.33 231.29 L181.47 232.2 L182.6 233.36 L183.73 234.76 L184.87 236.45 L186 238.46 L187.13 240.85 L188.27 243.72 L189.4 247.22 L190.53 251.65 L191.67 257.78 L192.8 273.5" stroke="#17a04b" stroke-width="1.4" fill="none" />
<path d="M169.4 273.5 L170.67 256.09 L171.93 249.3 L173.2 244.4 L174.47 240.53 L175.73 237.35 L177 234.7 L178.27 232.47 L179.53 230.6 L180.8 229.05 L182.07 227.77 L183.33 226.76 L184.6 225.98 L185.87 225.43 L187.13 225.11 L188.4 225 L189.67 225.11 L190.93 225.43 L192.2 225.98 L193.47 226.76 L194.73 227.77 L196 229.05 L197.27 230.6 L198.53 232.47 L199.8 234.7 L201.07 237.35 L202.33 240.53 L203.6 244.4 L204.87 249.3 L206.13 256.09 L207.4 273.5" stroke="#17a04b" stroke-width="1.4" fill="none" />
<path d="M186 273.5 L187.07 257.85 L188.13 251.75 L189.2 247.34 L190.27 243.86 L191.33 241 L192.4 238.62 L193.47 236.62 L194.53 234.94 L195.6 233.54 L196.67 232.39 L197.73 231.48 L198.8 230.78 L199.87 230.29 L200.93 230 L202 229.9 L203.07 230 L204.13 230.29 L205.2 230.78 L206.27 231.48 L207.33 232.39 L208.4 233.54 L209.47 234.94 L210.53 236.62 L211.6 238.62 L212.67 241 L213.73 243.86 L214.8 247.34 L215.87 251.75 L216.93 257.85 L218 273.5" stroke="#17a04b" stroke-width="1.4" fill="none" />
<path d="M207 273.5 L208.07 263.88 L209.13 260.13 L210.2 257.42 L211.27 255.28 L212.33 253.52 L213.4 252.06 L214.47 250.83 L215.53 249.8 L216.6 248.94 L217.67 248.23 L218.73 247.67 L219.8 247.24 L220.87 246.94 L221.93 246.76 L223 246.7 L224.07 246.76 L225.13 246.94 L226.2 247.24 L227.27 247.67 L228.33 248.23 L229.4 248.94 L230.47 249.8 L231.53 250.83 L232.6 252.06 L233.67 253.52 L234.73 255.28 L235.8 257.42 L236.87 260.13 L237.93 263.88 L239 273.5" stroke="#17a04b" stroke-width="1.4" fill="none" />
<path d="M222.9 273.5 L224.1 256.34 L225.3 249.65 L226.5 244.82 L227.7 241 L228.9 237.87 L230.1 235.26 L231.3 233.07 L232.5 231.22 L233.7 229.69 L234.9 228.43 L236.1 227.43 L237.3 226.67 L238.5 226.13 L239.7 225.81 L240.9 225.7 L242.1 225.81 L243.3 226.13 L244.5 226.67 L245.7 227.43 L246.9 228.43 L248.1 229.69 L249.3 231.22 L250.5 233.07 L251.7 235.26 L252.9 237.87 L254.1 241 L255.3 244.82 L256.5 249.65 L257.7 256.34 L258.9 273.5" stroke="#17a04b" stroke-width="1.4" fill="none" />
<path d="M232.3 273.5 L233.37 257.45 L234.43 251.2 L235.5 246.68 L236.57 243.11 L237.63 240.18 L238.7 237.74 L239.77 235.69 L240.83 233.97 L241.9 232.53 L242.97 231.36 L244.03 230.42 L245.1 229.7 L246.17 229.2 L247.23 228.9 L248.3 228.8 L249.37 228.9 L250.43 229.2 L251.5 229.7 L252.57 230.42 L253.63 231.36 L254.7 232.53 L255.77 233.97 L256.83 235.69 L257.9 237.74 L258.97 240.18 L260.03 243.11 L261.1 246.68 L262.17 251.2 L263.23 257.45 L264.3 273.5" stroke="#17a04b" stroke-width="1.4" fill="none" />
<path d="M256.2 273.5 L257 261.22 L257.8 256.44 L258.6 252.98 L259.4 250.25 L260.2 248.01 L261 246.14 L261.8 244.57 L262.6 243.25 L263.4 242.16 L264.2 241.26 L265 240.54 L265.8 239.99 L266.6 239.61 L267.4 239.38 L268.2 239.3 L269 239.38 L269.8 239.61 L270.6 239.99 L271.4 240.54 L272.2 241.26 L273 242.16 L273.8 243.25 L274.6 244.57 L275.4 246.14 L276.2 248.01 L277 250.25 L277.8 252.98 L278.6 256.44 L279.4 261.22 L280.2 273.5" stroke="#17a04b" stroke-width="1.4" fill="none" />
<path d="M262.8 273.5 L263.93 258.96 L265.07 253.3 L266.2 249.2 L267.33 245.97 L268.47 243.31 L269.6 241.1 L270.73 239.24 L271.87 237.68 L273 236.38 L274.13 235.32 L275.27 234.47 L276.4 233.82 L277.53 233.36 L278.67 233.09 L279.8 233 L280.93 233.09 L282.07 233.36 L283.2 233.82 L284.33 234.47 L285.47 235.32 L286.6 236.38 L287.73 237.68 L288.87 239.24 L290 241.1 L291.13 243.31 L292.27 245.97 L293.4 249.2 L294.53 253.3 L295.67 258.96 L296.8 273.5" stroke="#17a04b" stroke-width="1.4" fill="none" />
<path d="M268.4 273.5 L269.93 254.44 L271.47 247.01 L273 241.64 L274.53 237.4 L276.07 233.92 L277.6 231.02 L279.13 228.58 L280.67 226.54 L282.2 224.83 L283.73 223.44 L285.27 222.32 L286.8 221.47 L288.33 220.87 L289.87 220.52 L291.4 220.4 L292.93 220.52 L294.47 220.87 L296 221.47 L297.53 222.32 L299.07 223.44 L300.6 224.83 L302.13 226.54 L303.67 228.58 L305.2 231.02 L306.73 233.92 L308.27 237.4 L309.8 241.64 L311.33 247.01 L312.87 254.44 L314.4 273.5" stroke="#17a04b" stroke-width="1.4" fill="none" />
<path d="M280.7 273.5 L281.9 259.71 L283.1 254.34 L284.3 250.46 L285.5 247.39 L286.7 244.88 L287.9 242.78 L289.1 241.02 L290.3 239.54 L291.5 238.31 L292.7 237.3 L293.9 236.49 L295.1 235.88 L296.3 235.44 L297.5 235.19 L298.7 235.1 L299.9 235.19 L301.1 235.44 L302.3 235.88 L303.5 236.49 L304.7 237.3 L305.9 238.31 L307.1 239.54 L308.3 241.02 L309.5 242.78 L310.7 244.88 L311.9 247.39 L313.1 250.46 L314.3 254.34 L315.5 259.71 L316.7 273.5" stroke="#17a04b" stroke-width="1.4" fill="none" />
<path d="M292.1 273.5 L293.1 269.55 L294.1 268.01 L295.1 266.9 L296.1 266.02 L297.1 265.3 L298.1 264.7 L299.1 264.2 L300.1 263.77 L301.1 263.42 L302.1 263.13 L303.1 262.9 L304.1 262.72 L305.1 262.6 L306.1 262.52 L307.1 262.5 L308.1 262.52 L309.1 262.6 L310.1 262.72 L311.1 262.9 L312.1 263.13 L313.1 263.42 L314.1 263.77 L315.1 264.2 L316.1 264.7 L317.1 265.3 L318.1 266.02 L319.1 266.9 L320.1 268.01 L321.1 269.55 L322.1 273.5" stroke="#17a04b" stroke-width="1.4" fill="none" />
<path d="M297 273.5 L297.93 260.04 L298.87 254.79 L299.8 251 L300.73 248 L301.67 245.55 L302.6 243.5 L303.53 241.78 L304.47 240.33 L305.4 239.13 L306.33 238.14 L307.27 237.36 L308.2 236.76 L309.13 236.33 L310.07 236.08 L311 236 L311.93 236.08 L312.87 236.33 L313.8 236.76 L314.73 237.36 L315.67 238.14 L316.6 239.13 L317.53 240.33 L318.47 241.78 L319.4 243.5 L320.33 245.55 L321.27 248 L322.2 251 L323.13 254.79 L324.07 260.04 L325 273.5" stroke="#17a04b" stroke-width="1.4" fill="none" />
<path d="M53.2 273.5 L54.13 258.53 L55.07 252.7 L56 248.48 L56.93 245.15 L57.87 242.42 L58.8 240.14 L59.73 238.23 L60.67 236.62 L61.6 235.28 L62.53 234.18 L63.47 233.31 L64.4 232.64 L65.33 232.17 L66.27 231.89 L67.2 231.8 L68.13 231.89 L69.07 232.17 L70 232.64 L70.93 233.31 L71.87 234.18 L72.8 235.28 L73.73 236.62 L74.67 238.23 L75.6 240.14 L76.53 242.42 L77.47 245.15 L78.4 248.48 L79.33 252.7 L80.27 258.53 L81.2 273.5" stroke="#17a04b" stroke-width="1.4" fill="none" stroke-dasharray="3 2"/>
<path d="M81.5 273.5 L82.5 256.66 L83.5 250.1 L84.5 245.36 L85.5 241.61 L86.5 238.54 L87.5 235.98 L88.5 233.83 L89.5 232.02 L90.5 230.52 L91.5 229.28 L92.5 228.3 L93.5 227.55 L94.5 227.02 L95.5 226.7 L96.5 226.6 L97.5 226.7 L98.5 227.02 L99.5 227.55 L100.5 228.3 L101.5 229.28 L102.5 230.52 L103.5 232.02 L104.5 233.83 L105.5 235.98 L106.5 238.54 L107.5 241.61 L108.5 245.36 L109.5 250.1 L110.5 256.66 L111.5 273.5" stroke="#17a04b" stroke-width="1.4" fill="none" stroke-dasharray="3 2"/>
<path d="M129.5 273.5 L130.5 257.06 L131.5 250.65 L132.5 246.02 L133.5 242.36 L134.5 239.36 L135.5 236.86 L136.5 234.76 L137.5 232.99 L138.5 231.52 L139.5 230.32 L140.5 229.36 L141.5 228.63 L142.5 228.11 L143.5 227.8 L144.5 227.7 L145.5 227.8 L146.5 228.11 L147.5 228.63 L148.5 229.36 L149.5 230.32 L150.5 231.52 L151.5 232.99 L152.5 234.76 L153.5 236.86 L154.5 239.36 L155.5 242.36 L156.5 246.02 L157.5 250.65 L158.5 257.06 L159.5 273.5" stroke="#17a04b" stroke-width="1.4" fill="none" stroke-dasharray="3 2"/>
<path d="M157.6 273.5 L158.53 255.55 L159.47 248.56 L160.4 243.5 L161.33 239.51 L162.27 236.23 L163.2 233.5 L164.13 231.2 L165.07 229.28 L166 227.67 L166.93 226.36 L167.87 225.31 L168.8 224.51 L169.73 223.95 L170.67 223.61 L171.6 223.5 L172.53 223.61 L173.47 223.95 L174.4 224.51 L175.33 225.31 L176.27 226.36 L177.2 227.67 L178.13 229.28 L179.07 231.2 L180 233.5 L180.93 236.23 L181.87 239.51 L182.8 243.5 L183.73 248.56 L184.67 255.55 L185.6 273.5" stroke="#17a04b" stroke-width="1.4" fill="none" stroke-dasharray="3 2"/>
<path d="M151.3 273.5 L152.1 260.4 L152.9 255.29 L153.7 251.6 L154.5 248.68 L155.3 246.29 L156.1 244.3 L156.9 242.62 L157.7 241.22 L158.5 240.05 L159.3 239.09 L160.1 238.32 L160.9 237.74 L161.7 237.33 L162.5 237.08 L163.3 237 L164.1 237.08 L164.9 237.33 L165.7 237.74 L166.5 238.32 L167.3 239.09 L168.1 240.05 L168.9 241.22 L169.7 242.62 L170.5 244.3 L171.3 246.29 L172.1 248.68 L172.9 251.6 L173.7 255.29 L174.5 260.4 L175.3 273.5" stroke="#17a04b" stroke-width="1.4" fill="none" stroke-dasharray="3 2"/>
<path d="M113 273.5 L113.8 261.47 L114.6 256.79 L115.4 253.4 L116.2 250.72 L117 248.53 L117.8 246.7 L118.6 245.16 L119.4 243.87 L120.2 242.8 L121 241.92 L121.8 241.21 L122.6 240.68 L123.4 240.3 L124.2 240.07 L125 240 L125.8 240.07 L126.6 240.3 L127.4 240.68 L128.2 241.21 L129 241.92 L129.8 242.8 L130.6 243.87 L131.4 245.16 L132.2 246.7 L133 248.53 L133.8 250.72 L134.6 253.4 L135.4 256.79 L136.2 261.47 L137 273.5" stroke="#17a04b" stroke-width="1.4" fill="none" stroke-dasharray="3 2"/>
<path d="M171.1 273.5 L171.9 259.68 L172.7 254.29 L173.5 250.4 L174.3 247.33 L175.1 244.8 L175.9 242.7 L176.7 240.93 L177.5 239.45 L178.3 238.21 L179.1 237.2 L179.9 236.39 L180.7 235.78 L181.5 235.34 L182.3 235.09 L183.1 235 L183.9 235.09 L184.7 235.34 L185.5 235.78 L186.3 236.39 L187.1 237.2 L187.9 238.21 L188.7 239.45 L189.5 240.93 L190.3 242.7 L191.1 244.8 L191.9 247.33 L192.7 250.4 L193.5 254.29 L194.3 259.68 L195.1 273.5" stroke="#17a04b" stroke-width="1.4" fill="none" stroke-dasharray="3 2"/>
<path d="M224.8 273.5 L225.67 258.21 L226.53 252.25 L227.4 247.94 L228.27 244.54 L229.13 241.75 L230 239.42 L230.87 237.46 L231.73 235.82 L232.6 234.46 L233.47 233.34 L234.33 232.44 L235.2 231.76 L236.07 231.28 L236.93 230.99 L237.8 230.9 L238.67 230.99 L239.53 231.28 L240.4 231.76 L241.27 232.44 L242.13 233.34 L243 234.46 L243.87 235.82 L244.73 237.46 L245.6 239.42 L246.47 241.75 L247.33 244.54 L248.2 247.94 L249.07 252.25 L249.93 258.21 L250.8 273.5" stroke="#17a04b" stroke-width="1.4" fill="none" stroke-dasharray="3 2"/>
<path d="M232 273.5 L232.8 259.68 L233.6 254.29 L234.4 250.4 L235.2 247.33 L236 244.8 L236.8 242.7 L237.6 240.93 L238.4 239.45 L239.2 238.21 L240 237.2 L240.8 236.39 L241.6 235.78 L242.4 235.34 L243.2 235.09 L244 235 L244.8 235.09 L245.6 235.34 L246.4 235.78 L247.2 236.39 L248 237.2 L248.8 238.21 L249.6 239.45 L250.4 240.93 L251.2 242.7 L252 244.8 L252.8 247.33 L253.6 250.4 L254.4 254.29 L255.2 259.68 L256 273.5" stroke="#17a04b" stroke-width="1.4" fill="none" stroke-dasharray="3 2"/>
<path d="M279.3 273.5 L280.03 259.32 L280.77 253.79 L281.5 249.8 L282.23 246.65 L282.97 244.06 L283.7 241.9 L284.43 240.09 L285.17 238.56 L285.9 237.3 L286.63 236.26 L287.37 235.43 L288.1 234.8 L288.83 234.35 L289.57 234.09 L290.3 234 L291.03 234.09 L291.77 234.35 L292.5 234.8 L293.23 235.43 L293.97 236.26 L294.7 237.3 L295.43 238.56 L296.17 240.09 L296.9 241.9 L297.63 244.06 L298.37 246.65 L299.1 249.8 L299.83 253.79 L300.57 259.32 L301.3 273.5" stroke="#17a04b" stroke-width="1.4" fill="none" stroke-dasharray="3 2"/>
<path d="M259.4 273.5 L260.2 262.73 L261 258.53 L261.8 255.5 L262.6 253.1 L263.4 251.14 L264.2 249.5 L265 248.12 L265.8 246.97 L266.6 246 L267.4 245.22 L268.2 244.59 L269 244.11 L269.8 243.77 L270.6 243.57 L271.4 243.5 L272.2 243.57 L273 243.77 L273.8 244.11 L274.6 244.59 L275.4 245.22 L276.2 246 L277 246.97 L277.8 248.12 L278.6 249.5 L279.4 251.14 L280.2 253.1 L281 255.5 L281.8 258.53 L282.6 262.73 L283.4 273.5" stroke="#17a04b" stroke-width="1.4" fill="none" stroke-dasharray="3 2"/>
<path d="M300.3 273.5 L301.03 261.22 L301.77 256.44 L302.5 252.98 L303.23 250.25 L303.97 248.01 L304.7 246.14 L305.43 244.57 L306.17 243.25 L306.9 242.16 L307.63 241.26 L308.37 240.54 L309.1 239.99 L309.83 239.61 L310.57 239.38 L311.3 239.3 L312.03 239.38 L312.77 239.61 L313.5 239.99 L314.23 240.54 L314.97 241.26 L315.7 242.16 L316.43 243.25 L317.17 244.57 L317.9 246.14 L318.63 248.01 L319.37 250.25 L320.1 252.98 L320.83 256.44 L321.57 261.22 L322.3 273.5" stroke="#17a04b" stroke-width="1.4" fill="none" stroke-dasharray="3 2"/>
<path d="M193 273.5 L193.8 260.04 L194.6 254.79 L195.4 251 L196.2 248 L197 245.55 L197.8 243.5 L198.6 241.78 L199.4 240.33 L200.2 239.13 L201 238.14 L201.8 237.36 L202.6 236.76 L203.4 236.33 L204.2 236.08 L205 236 L205.8 236.08 L206.6 236.33 L207.4 236.76 L208.2 237.36 L209 238.14 L209.8 239.13 L210.6 240.33 L211.4 241.78 L212.2 243.5 L213 245.55 L213.8 248 L214.6 251 L215.4 254.79 L216.2 260.04 L217 273.5" stroke="#17a04b" stroke-width="1.4" fill="none" stroke-dasharray="3 2"/>
<path d="M185.7 273.5 L186.43 259.32 L187.17 253.79 L187.9 249.8 L188.63 246.65 L189.37 244.06 L190.1 241.9 L190.83 240.09 L191.57 238.56 L192.3 237.3 L193.03 236.26 L193.77 235.43 L194.5 234.8 L195.23 234.35 L195.97 234.09 L196.7 234 L197.43 234.09 L198.17 234.35 L198.9 234.8 L199.63 235.43 L200.37 236.26 L201.1 237.3 L201.83 238.56 L202.57 240.09 L203.3 241.9 L204.03 244.06 L204.77 246.65 L205.5 249.8 L206.23 253.79 L206.97 259.32 L207.7 273.5" stroke="#17a04b" stroke-width="1.4" fill="none" stroke-dasharray="3 2"/>
<path d="M218 273.5 L218.73 258.96 L219.47 253.3 L220.2 249.2 L220.93 245.97 L221.67 243.31 L222.4 241.1 L223.13 239.24 L223.87 237.68 L224.6 236.38 L225.33 235.32 L226.07 234.47 L226.8 233.82 L227.53 233.36 L228.27 233.09 L229 233 L229.73 233.09 L230.47 233.36 L231.2 233.82 L231.93 234.47 L232.67 235.32 L233.4 236.38 L234.13 237.68 L234.87 239.24 L235.6 241.1 L236.33 243.31 L237.07 245.97 L237.8 249.2 L238.53 253.3 L239.27 258.96 L240 273.5" stroke="#17a04b" stroke-width="1.4" fill="none" stroke-dasharray="3 2"/>
<path d="M49 273.5 L49.6 264.35 L50.2 260.78 L50.8 258.2 L51.4 256.16 L52 254.49 L52.6 253.1 L53.2 251.93 L53.8 250.95 L54.4 250.13 L55 249.46 L55.6 248.92 L56.2 248.52 L56.8 248.23 L57.4 248.06 L58 248 L58.6 248.06 L59.2 248.23 L59.8 248.52 L60.4 248.92 L61 249.46 L61.6 250.13 L62.2 250.95 L62.8 251.93 L63.4 253.1 L64 254.49 L64.6 256.16 L65.2 258.2 L65.8 260.78 L66.4 264.35 L67 273.5" stroke="#17a04b" stroke-width="1.4" fill="none" stroke-dasharray="3 2"/>
<path d="M79 273.5 L79.6 262.91 L80.2 258.78 L80.8 255.8 L81.4 253.44 L82 251.51 L82.6 249.9 L83.2 248.55 L83.8 247.41 L84.4 246.46 L85 245.69 L85.6 245.07 L86.2 244.6 L86.8 244.26 L87.4 244.07 L88 244 L88.6 244.07 L89.2 244.26 L89.8 244.6 L90.4 245.07 L91 245.69 L91.6 246.46 L92.2 247.41 L92.8 248.55 L93.4 249.9 L94 251.51 L94.6 253.44 L95.2 255.8 L95.8 258.78 L96.4 262.91 L97 273.5" stroke="#17a04b" stroke-width="1.4" fill="none" stroke-dasharray="3 2"/>
<path d="M109 273.5 L109.6 263.63 L110.2 259.78 L110.8 257 L111.4 254.8 L112 253 L112.6 251.5 L113.2 250.24 L113.8 249.18 L114.4 248.3 L115 247.57 L115.6 247 L116.2 246.56 L116.8 246.25 L117.4 246.06 L118 246 L118.6 246.06 L119.2 246.25 L119.8 246.56 L120.4 247 L121 247.57 L121.6 248.3 L122.2 249.18 L122.8 250.24 L123.4 251.5 L124 253 L124.6 254.8 L125.2 257 L125.8 259.78 L126.4 263.63 L127 273.5" stroke="#17a04b" stroke-width="1.4" fill="none" stroke-dasharray="3 2"/>
<path d="M38.5 271 L39.7 270.16 L40.9 270.61 L42.1 269.31 L43.3 270.81 L44.5 269.61 L45.7 270.05 L46.9 270.85 L48.1 269.68 L49.3 270.9 L50.5 269.87 L51.7 270.82 L52.9 270.76 L54.1 269.9 L55.3 268.85 L56.5 270.68 L57.7 270.42 L58.9 269.37 L60.1 268.54 L61.3 269.5 L62.5 269.97 L63.7 268.46 L64.9 270.88 L66.1 268.77 L67.3 270.25 L68.5 270.62 L69.7 270.69 L70.9 270.2 L72.1 268.88 L73.3 270.53 L74.5 269.49 L75.7 269.34 L76.9 270.03 L78.1 269.58 L79.3 270.84 L80.5 270.85 L81.7 270.46 L82.9 269.23 L84.1 269.89 L85.3 270.18 L86.5 269.48 L87.7 269.82 L88.9 270.22 L90.1 268.93 L91.3 269.18 L92.5 270.37 L93.7 269.51 L94.9 269.63 L96.1 268.72 L97.3 269.1 L98.5 270.25 L99.7 268.45 L100.9 270.69 L102.1 269.91 L103.3 269.03 L104.5 270.6 L105.7 269.73 L106.9 270.9 L108.1 269.26 L109.3 269.01 L110.5 269.51 L111.7 268.72 L112.9 270.18 L114.1 269.19 L115.3 269.45 L116.5 269.49 L117.7 269.81 L118.9 268.82 L120.1 268.54 L121.3 269.77 L122.5 269.27 L123.7 270.84 L124.9 269.18 L126.1 269.32 L127.3 268.42 L128.5 268.86 L129.7 270.26 L130.9 270 L132.1 269.26 L133.3 270.94 L134.5 269.8 L135.7 270.56 L136.9 270.7 L138.1 270.85 L139.3 269 L140.5 270.66 L141.7 270.36 L142.9 269.98 L144.1 268.73 L145.3 270.79 L146.5 269.83 L147.7 269.57 L148.9 268.7 L150.1 268.87 L151.3 268.75 L152.5 270.28 L153.7 269.92 L154.9 270.07 L156.1 268.7 L157.3 268.51 L158.5 270.61 L159.7 270.54 L160.9 270.4 L162.1 270.39 L163.3 269.74 L164.5 269.47 L165.7 270.32 L166.9 270.99 L168.1 269.91 L169.3 270.04 L170.5 269.53 L171.7 268.52 L172.9 269.2 L174.1 269.66 L175.3 269.39 L176.5 269.24 L177.7 270.86 L178.9 268.66 L180.1 268.97 L181.3 268.73 L182.5 268.93 L183.7 269.98 L184.9 269.96 L186.1 270.73 L187.3 269.35 L188.5 270.84 L189.7 270.82 L190.9 270.46 L192.1 270.58 L193.3 270.12 L194.5 270.86 L195.7 271 L196.9 270.61 L198.1 270.74 L199.3 270.05 L200.5 270.93 L201.7 268.73 L202.9 269.4 L204.1 270.61 L205.3 270.34 L206.5 270.1 L207.7 270.05 L208.9 270.68 L210.1 268.79 L211.3 268.42 L212.5 269.79 L213.7 269.74 L214.9 270.78 L216.1 270.73 L217.3 270.11 L218.5 270.31 L219.7 268.84 L220.9 270.58 L222.1 270.94 L223.3 268.53 L224.5 269.63 L225.7 270.62 L226.9 269.59 L228.1 270.93 L229.3 269.63 L230.5 268.46 L231.7 268.76 L232.9 269.19 L234.1 270.32 L235.3 270.05 L236.5 270.57 L237.7 268.99 L238.9 269.62 L240.1 268.97 L241.3 270.14 L242.5 270.42 L243.7 268.89 L244.9 268.44 L246.1 268.78 L247.3 268.9 L248.5 268.87 L249.7 269.08 L250.9 270.41 L252.1 269.65 L253.3 270.08 L254.5 270.92 L255.7 270.93 L256.9 270.27 L258.1 270.33 L259.3 269.2 L260.5 268.51 L261.7 269.84 L262.9 268.56 L264.1 268.43 L265.3 268.52 L266.5 270.05 L267.7 270.43 L268.9 270.41 L270.1 270.49 L271.3 270.47 L272.5 269.38 L273.7 268.66 L274.9 268.81 L276.1 269.75 L277.3 269.3 L278.5 268.92 L279.7 270.78 L280.9 269.28 L282.1 268.63 L283.3 268.97 L284.5 269.05 L285.7 269.76 L286.9 270.54 L288.1 268.95 L289.3 270.14 L290.5 268.92 L291.7 268.47 L292.9 269.97 L294.1 269.96 L295.3 268.54 L296.5 269.12 L297.7 270.56 L298.9 270.67 L300.1 270.61 L301.3 268.65 L302.5 268.9 L303.7 270.62 L304.9 268.85 L306.1 268.45 L307.3 269.29 L308.5 270.09 L309.7 269.57 L310.9 270.66 L312.1 270.96 L313.3 268.48 L314.5 269.31 L315.7 269.63 L316.9 268.57 L318.1 269.87 L319.3 268.73 L320.5 268.85 L321.7 270.45 L322.9 270.35 L324.1 270.24 L325.3 270.37" stroke="#17a04b" stroke-width="1.2" fill="none" />
</g>
<line x1="100.75" y1="271.5" x2="100.75" y2="268.5" stroke="#1e1e1e" stroke-width="1.3" />
<line x1="100.75" y1="214.5" x2="100.75" y2="217.5" stroke="#1e1e1e" stroke-width="1.3" />
<line x1="163" y1="271.5" x2="163" y2="268.5" stroke="#1e1e1e" stroke-width="1.3" />
<line x1="163" y1="214.5" x2="163" y2="217.5" stroke="#1e1e1e" stroke-width="1.3" />
<line x1="225.25" y1="271.5" x2="225.25" y2="268.5" stroke="#1e1e1e" stroke-width="1.3" />
<line x1="225.25" y1="214.5" x2="225.25" y2="217.5" stroke="#1e1e1e" stroke-width="1.3" />
<line x1="287.5" y1="271.5" x2="287.5" y2="268.5" stroke="#1e1e1e" stroke-width="1.3" />
<line x1="287.5" y1="214.5" x2="287.5" y2="217.5" stroke="#1e1e1e" stroke-width="1.3" />
<line x1="38.5" y1="235.4" x2="41.5" y2="235.4" stroke="#1e1e1e" stroke-width="1.5" />
<line x1="324.8" y1="235.4" x2="321.8" y2="235.4" stroke="#1e1e1e" stroke-width="1.5" />
<line x1="38.5" y1="261.7" x2="41.5" y2="261.7" stroke="#1e1e1e" stroke-width="1.5" />
<line x1="324.8" y1="261.7" x2="321.8" y2="261.7" stroke="#1e1e1e" stroke-width="1.5" />
<rect x="38.5" y="214.5" width="286.3" height="57" fill="none" stroke="#1e1e1e" stroke-width="1.2"/>
<text x="33.9" y="239" font-size="10" text-anchor="end" fill="#222" stroke="#222" >−20</text>
<text x="33.9" y="265.3" font-size="10" text-anchor="end" fill="#222" stroke="#222" >−40</text>
<text x="41.6" y="283.6" font-size="10" text-anchor="middle" fill="#222" stroke="#222" >523</text>
<text x="102.65" y="283.6" font-size="10" text-anchor="middle" fill="#222" stroke="#222" >523.5</text>
<text x="164.4" y="283.6" font-size="10" text-anchor="middle" fill="#222" stroke="#222" >524</text>
<text x="226.05" y="283.6" font-size="10" text-anchor="middle" fill="#222" stroke="#222" >524.5</text>
<text x="288" y="283.6" font-size="10" text-anchor="middle" fill="#222" stroke="#222" >525</text>
<text x="183" y="297.7" font-size="10" text-anchor="middle" fill="#222" stroke="#222" >λ (nm)</text>
<text x="0" y="0" font-size="10" text-anchor="middle" fill="#222" stroke="#222" transform="translate(9.4 242.8) rotate(-90)">Power (dBm)</text>
<line x1="378.74" y1="21.7" x2="378.74" y2="272.8" stroke="#8c8c8c" stroke-width="0.75" stroke-dasharray="1 1.3"/>
<line x1="381.8" y1="21.7" x2="381.8" y2="272.8" stroke="#8c8c8c" stroke-width="0.75" stroke-dasharray="1 1.3"/>
<line x1="384.3" y1="21.7" x2="384.3" y2="272.8" stroke="#8c8c8c" stroke-width="0.75" stroke-dasharray="1 1.3"/>
<line x1="386.41" y1="21.7" x2="386.41" y2="272.8" stroke="#8c8c8c" stroke-width="0.75" stroke-dasharray="1 1.3"/>
<line x1="388.24" y1="21.7" x2="388.24" y2="272.8" stroke="#8c8c8c" stroke-width="0.75" stroke-dasharray="1 1.3"/>
<line x1="389.86" y1="21.7" x2="389.86" y2="272.8" stroke="#8c8c8c" stroke-width="0.75" stroke-dasharray="1 1.3"/>
<line x1="391.3" y1="21.7" x2="391.3" y2="272.8" stroke="#8c8c8c" stroke-width="0.75" stroke-dasharray="1 1.3"/>
<line x1="400.8" y1="21.7" x2="400.8" y2="272.8" stroke="#8c8c8c" stroke-width="0.75" stroke-dasharray="1 1.3"/>
<line x1="406.35" y1="21.7" x2="406.35" y2="272.8" stroke="#8c8c8c" stroke-width="0.75" stroke-dasharray="1 1.3"/>
<line x1="410.29" y1="21.7" x2="410.29" y2="272.8" stroke="#8c8c8c" stroke-width="0.75" stroke-dasharray="1 1.3"/>
<line x1="413.35" y1="21.7" x2="413.35" y2="272.8" stroke="#8c8c8c" stroke-width="0.75" stroke-dasharray="1 1.3"/>
<line x1="415.85" y1="21.7" x2="415.85" y2="272.8" stroke="#8c8c8c" stroke-width="0.75" stroke-dasharray="1 1.3"/>
<line x1="417.96" y1="21.7" x2="417.96" y2="272.8" stroke="#8c8c8c" stroke-width="0.75" stroke-dasharray="1 1.3"/>
<line x1="419.79" y1="21.7" x2="419.79" y2="272.8" stroke="#8c8c8c" stroke-width="0.75" stroke-dasharray="1 1.3"/>
<line x1="421.41" y1="21.7" x2="421.41" y2="272.8" stroke="#8c8c8c" stroke-width="0.75" stroke-dasharray="1 1.3"/>
<line x1="422.85" y1="21.7" x2="422.85" y2="272.8" stroke="#8c8c8c" stroke-width="0.75" stroke-dasharray="1 1.3"/>
<line x1="432.35" y1="21.7" x2="432.35" y2="272.8" stroke="#8c8c8c" stroke-width="0.75" stroke-dasharray="1 1.3"/>
<line x1="437.9" y1="21.7" x2="437.9" y2="272.8" stroke="#8c8c8c" stroke-width="0.75" stroke-dasharray="1 1.3"/>
<line x1="441.84" y1="21.7" x2="441.84" y2="272.8" stroke="#8c8c8c" stroke-width="0.75" stroke-dasharray="1 1.3"/>
<line x1="444.9" y1="21.7" x2="444.9" y2="272.8" stroke="#8c8c8c" stroke-width="0.75" stroke-dasharray="1 1.3"/>
<line x1="447.4" y1="21.7" x2="447.4" y2="272.8" stroke="#8c8c8c" stroke-width="0.75" stroke-dasharray="1 1.3"/>
<line x1="449.51" y1="21.7" x2="449.51" y2="272.8" stroke="#8c8c8c" stroke-width="0.75" stroke-dasharray="1 1.3"/>
<line x1="451.34" y1="21.7" x2="451.34" y2="272.8" stroke="#8c8c8c" stroke-width="0.75" stroke-dasharray="1 1.3"/>
<line x1="452.96" y1="21.7" x2="452.96" y2="272.8" stroke="#8c8c8c" stroke-width="0.75" stroke-dasharray="1 1.3"/>
<line x1="454.4" y1="21.7" x2="454.4" y2="272.8" stroke="#8c8c8c" stroke-width="0.75" stroke-dasharray="1 1.3"/>
<line x1="463.9" y1="21.7" x2="463.9" y2="272.8" stroke="#8c8c8c" stroke-width="0.75" stroke-dasharray="1 1.3"/>
<line x1="469.45" y1="21.7" x2="469.45" y2="272.8" stroke="#8c8c8c" stroke-width="0.75" stroke-dasharray="1 1.3"/>
<line x1="473.39" y1="21.7" x2="473.39" y2="272.8" stroke="#8c8c8c" stroke-width="0.75" stroke-dasharray="1 1.3"/>
<line x1="476.45" y1="21.7" x2="476.45" y2="272.8" stroke="#8c8c8c" stroke-width="0.75" stroke-dasharray="1 1.3"/>
<line x1="478.95" y1="21.7" x2="478.95" y2="272.8" stroke="#8c8c8c" stroke-width="0.75" stroke-dasharray="1 1.3"/>
<line x1="481.06" y1="21.7" x2="481.06" y2="272.8" stroke="#8c8c8c" stroke-width="0.75" stroke-dasharray="1 1.3"/>
<line x1="482.89" y1="21.7" x2="482.89" y2="272.8" stroke="#8c8c8c" stroke-width="0.75" stroke-dasharray="1 1.3"/>
<line x1="484.51" y1="21.7" x2="484.51" y2="272.8" stroke="#8c8c8c" stroke-width="0.75" stroke-dasharray="1 1.3"/>
<line x1="485.95" y1="21.7" x2="485.95" y2="272.8" stroke="#8c8c8c" stroke-width="0.75" stroke-dasharray="1 1.3"/>
<line x1="495.45" y1="21.7" x2="495.45" y2="272.8" stroke="#8c8c8c" stroke-width="0.75" stroke-dasharray="1 1.3"/>
<line x1="501" y1="21.7" x2="501" y2="272.8" stroke="#8c8c8c" stroke-width="0.75" stroke-dasharray="1 1.3"/>
<line x1="504.94" y1="21.7" x2="504.94" y2="272.8" stroke="#8c8c8c" stroke-width="0.75" stroke-dasharray="1 1.3"/>
<line x1="508" y1="21.7" x2="508" y2="272.8" stroke="#8c8c8c" stroke-width="0.75" stroke-dasharray="1 1.3"/>
<line x1="510.5" y1="21.7" x2="510.5" y2="272.8" stroke="#8c8c8c" stroke-width="0.75" stroke-dasharray="1 1.3"/>
<line x1="512.61" y1="21.7" x2="512.61" y2="272.8" stroke="#8c8c8c" stroke-width="0.75" stroke-dasharray="1 1.3"/>
<line x1="514.44" y1="21.7" x2="514.44" y2="272.8" stroke="#8c8c8c" stroke-width="0.75" stroke-dasharray="1 1.3"/>
<line x1="516.06" y1="21.7" x2="516.06" y2="272.8" stroke="#8c8c8c" stroke-width="0.75" stroke-dasharray="1 1.3"/>
<line x1="517.5" y1="21.7" x2="517.5" y2="272.8" stroke="#8c8c8c" stroke-width="0.75" stroke-dasharray="1 1.3"/>
<line x1="527" y1="21.7" x2="527" y2="272.8" stroke="#8c8c8c" stroke-width="0.75" stroke-dasharray="1 1.3"/>
<line x1="532.55" y1="21.7" x2="532.55" y2="272.8" stroke="#8c8c8c" stroke-width="0.75" stroke-dasharray="1 1.3"/>
<line x1="536.49" y1="21.7" x2="536.49" y2="272.8" stroke="#8c8c8c" stroke-width="0.75" stroke-dasharray="1 1.3"/>
<line x1="539.55" y1="21.7" x2="539.55" y2="272.8" stroke="#8c8c8c" stroke-width="0.75" stroke-dasharray="1 1.3"/>
<line x1="542.05" y1="21.7" x2="542.05" y2="272.8" stroke="#8c8c8c" stroke-width="0.75" stroke-dasharray="1 1.3"/>
<line x1="544.16" y1="21.7" x2="544.16" y2="272.8" stroke="#8c8c8c" stroke-width="0.75" stroke-dasharray="1 1.3"/>
<line x1="545.99" y1="21.7" x2="545.99" y2="272.8" stroke="#8c8c8c" stroke-width="0.75" stroke-dasharray="1 1.3"/>
<line x1="547.61" y1="21.7" x2="547.61" y2="272.8" stroke="#8c8c8c" stroke-width="0.75" stroke-dasharray="1 1.3"/>
<line x1="549.05" y1="21.7" x2="549.05" y2="272.8" stroke="#8c8c8c" stroke-width="0.75" stroke-dasharray="1 1.3"/>
<line x1="558.55" y1="21.7" x2="558.55" y2="272.8" stroke="#8c8c8c" stroke-width="0.75" stroke-dasharray="1 1.3"/>
<line x1="564.1" y1="21.7" x2="564.1" y2="272.8" stroke="#8c8c8c" stroke-width="0.75" stroke-dasharray="1 1.3"/>
<line x1="568.04" y1="21.7" x2="568.04" y2="272.8" stroke="#8c8c8c" stroke-width="0.75" stroke-dasharray="1 1.3"/>
<line x1="571.1" y1="21.7" x2="571.1" y2="272.8" stroke="#8c8c8c" stroke-width="0.75" stroke-dasharray="1 1.3"/>
<line x1="573.6" y1="21.7" x2="573.6" y2="272.8" stroke="#8c8c8c" stroke-width="0.75" stroke-dasharray="1 1.3"/>
<line x1="575.71" y1="21.7" x2="575.71" y2="272.8" stroke="#8c8c8c" stroke-width="0.75" stroke-dasharray="1 1.3"/>
<line x1="577.54" y1="21.7" x2="577.54" y2="272.8" stroke="#8c8c8c" stroke-width="0.75" stroke-dasharray="1 1.3"/>
<line x1="579.16" y1="21.7" x2="579.16" y2="272.8" stroke="#8c8c8c" stroke-width="0.75" stroke-dasharray="1 1.3"/>
<line x1="580.6" y1="21.7" x2="580.6" y2="272.8" stroke="#8c8c8c" stroke-width="0.75" stroke-dasharray="1 1.3"/>
<line x1="590.1" y1="21.7" x2="590.1" y2="272.8" stroke="#8c8c8c" stroke-width="0.75" stroke-dasharray="1 1.3"/>
<line x1="595.65" y1="21.7" x2="595.65" y2="272.8" stroke="#8c8c8c" stroke-width="0.75" stroke-dasharray="1 1.3"/>
<line x1="599.59" y1="21.7" x2="599.59" y2="272.8" stroke="#8c8c8c" stroke-width="0.75" stroke-dasharray="1 1.3"/>
<line x1="602.65" y1="21.7" x2="602.65" y2="272.8" stroke="#8c8c8c" stroke-width="0.75" stroke-dasharray="1 1.3"/>
<line x1="605.15" y1="21.7" x2="605.15" y2="272.8" stroke="#8c8c8c" stroke-width="0.75" stroke-dasharray="1 1.3"/>
<line x1="607.26" y1="21.7" x2="607.26" y2="272.8" stroke="#8c8c8c" stroke-width="0.75" stroke-dasharray="1 1.3"/>
<line x1="609.09" y1="21.7" x2="609.09" y2="272.8" stroke="#8c8c8c" stroke-width="0.75" stroke-dasharray="1 1.3"/>
<line x1="610.71" y1="21.7" x2="610.71" y2="272.8" stroke="#8c8c8c" stroke-width="0.75" stroke-dasharray="1 1.3"/>
<line x1="612.15" y1="21.7" x2="612.15" y2="272.8" stroke="#8c8c8c" stroke-width="0.75" stroke-dasharray="1 1.3"/>
<line x1="621.65" y1="21.7" x2="621.65" y2="272.8" stroke="#8c8c8c" stroke-width="0.75" stroke-dasharray="1 1.3"/>
<line x1="627.2" y1="21.7" x2="627.2" y2="272.8" stroke="#8c8c8c" stroke-width="0.75" stroke-dasharray="1 1.3"/>
<line x1="631.14" y1="21.7" x2="631.14" y2="272.8" stroke="#8c8c8c" stroke-width="0.75" stroke-dasharray="1 1.3"/>
<line x1="634.2" y1="21.7" x2="634.2" y2="272.8" stroke="#8c8c8c" stroke-width="0.75" stroke-dasharray="1 1.3"/>
<line x1="636.7" y1="21.7" x2="636.7" y2="272.8" stroke="#8c8c8c" stroke-width="0.75" stroke-dasharray="1 1.3"/>
<line x1="638.81" y1="21.7" x2="638.81" y2="272.8" stroke="#8c8c8c" stroke-width="0.75" stroke-dasharray="1 1.3"/>
<line x1="640.64" y1="21.7" x2="640.64" y2="272.8" stroke="#8c8c8c" stroke-width="0.75" stroke-dasharray="1 1.3"/>
<line x1="642.26" y1="21.7" x2="642.26" y2="272.8" stroke="#8c8c8c" stroke-width="0.75" stroke-dasharray="1 1.3"/>
<line x1="643.7" y1="21.7" x2="643.7" y2="272.8" stroke="#8c8c8c" stroke-width="0.75" stroke-dasharray="1 1.3"/>
<line x1="653.2" y1="21.7" x2="653.2" y2="272.8" stroke="#8c8c8c" stroke-width="0.75" stroke-dasharray="1 1.3"/>
<line x1="658.75" y1="21.7" x2="658.75" y2="272.8" stroke="#8c8c8c" stroke-width="0.75" stroke-dasharray="1 1.3"/>
<line x1="662.69" y1="21.7" x2="662.69" y2="272.8" stroke="#8c8c8c" stroke-width="0.75" stroke-dasharray="1 1.3"/>
<line x1="665.75" y1="21.7" x2="665.75" y2="272.8" stroke="#8c8c8c" stroke-width="0.75" stroke-dasharray="1 1.3"/>
<line x1="668.25" y1="21.7" x2="668.25" y2="272.8" stroke="#8c8c8c" stroke-width="0.75" stroke-dasharray="1 1.3"/>
<line x1="670.36" y1="21.7" x2="670.36" y2="272.8" stroke="#8c8c8c" stroke-width="0.75" stroke-dasharray="1 1.3"/>
<line x1="672.19" y1="21.7" x2="672.19" y2="272.8" stroke="#8c8c8c" stroke-width="0.75" stroke-dasharray="1 1.3"/>
<line x1="673.81" y1="21.7" x2="673.81" y2="272.8" stroke="#8c8c8c" stroke-width="0.75" stroke-dasharray="1 1.3"/>
<line x1="675.25" y1="21.7" x2="675.25" y2="272.8" stroke="#8c8c8c" stroke-width="0.75" stroke-dasharray="1 1.3"/>
<line x1="374.8" y1="231.1" x2="683.5" y2="231.1" stroke="rgba(0,0,0,0.17)" stroke-width="1.2" />
<line x1="374.8" y1="196.2" x2="683.5" y2="196.2" stroke="rgba(0,0,0,0.17)" stroke-width="1.2" />
<line x1="374.8" y1="161.3" x2="683.5" y2="161.3" stroke="rgba(0,0,0,0.17)" stroke-width="1.2" />
<line x1="374.8" y1="126.4" x2="683.5" y2="126.4" stroke="rgba(0,0,0,0.17)" stroke-width="1.2" />
<line x1="374.8" y1="91.5" x2="683.5" y2="91.5" stroke="rgba(0,0,0,0.17)" stroke-width="1.2" />
<line x1="374.8" y1="56.6" x2="683.5" y2="56.6" stroke="rgba(0,0,0,0.17)" stroke-width="1.2" />
<line x1="378.74" y1="272.8" x2="378.74" y2="270.3" stroke="#1e1e1e" stroke-width="1.1" />
<line x1="378.74" y1="21.7" x2="378.74" y2="24.2" stroke="#1e1e1e" stroke-width="1.1" />
<line x1="381.8" y1="272.8" x2="381.8" y2="270.3" stroke="#1e1e1e" stroke-width="1.1" />
<line x1="381.8" y1="21.7" x2="381.8" y2="24.2" stroke="#1e1e1e" stroke-width="1.1" />
<line x1="384.3" y1="272.8" x2="384.3" y2="270.3" stroke="#1e1e1e" stroke-width="1.1" />
<line x1="384.3" y1="21.7" x2="384.3" y2="24.2" stroke="#1e1e1e" stroke-width="1.1" />
<line x1="386.41" y1="272.8" x2="386.41" y2="270.3" stroke="#1e1e1e" stroke-width="1.1" />
<line x1="386.41" y1="21.7" x2="386.41" y2="24.2" stroke="#1e1e1e" stroke-width="1.1" />
<line x1="388.24" y1="272.8" x2="388.24" y2="270.3" stroke="#1e1e1e" stroke-width="1.1" />
<line x1="388.24" y1="21.7" x2="388.24" y2="24.2" stroke="#1e1e1e" stroke-width="1.1" />
<line x1="389.86" y1="272.8" x2="389.86" y2="270.3" stroke="#1e1e1e" stroke-width="1.1" />
<line x1="389.86" y1="21.7" x2="389.86" y2="24.2" stroke="#1e1e1e" stroke-width="1.1" />
<line x1="391.3" y1="272.8" x2="391.3" y2="269.3" stroke="#1e1e1e" stroke-width="1.1" />
<line x1="391.3" y1="21.7" x2="391.3" y2="25.2" stroke="#1e1e1e" stroke-width="1.1" />
<line x1="400.8" y1="272.8" x2="400.8" y2="270.3" stroke="#1e1e1e" stroke-width="1.1" />
<line x1="400.8" y1="21.7" x2="400.8" y2="24.2" stroke="#1e1e1e" stroke-width="1.1" />
<line x1="406.35" y1="272.8" x2="406.35" y2="270.3" stroke="#1e1e1e" stroke-width="1.1" />
<line x1="406.35" y1="21.7" x2="406.35" y2="24.2" stroke="#1e1e1e" stroke-width="1.1" />
<line x1="410.29" y1="272.8" x2="410.29" y2="270.3" stroke="#1e1e1e" stroke-width="1.1" />
<line x1="410.29" y1="21.7" x2="410.29" y2="24.2" stroke="#1e1e1e" stroke-width="1.1" />
<line x1="413.35" y1="272.8" x2="413.35" y2="270.3" stroke="#1e1e1e" stroke-width="1.1" />
<line x1="413.35" y1="21.7" x2="413.35" y2="24.2" stroke="#1e1e1e" stroke-width="1.1" />
<line x1="415.85" y1="272.8" x2="415.85" y2="270.3" stroke="#1e1e1e" stroke-width="1.1" />
<line x1="415.85" y1="21.7" x2="415.85" y2="24.2" stroke="#1e1e1e" stroke-width="1.1" />
<line x1="417.96" y1="272.8" x2="417.96" y2="270.3" stroke="#1e1e1e" stroke-width="1.1" />
<line x1="417.96" y1="21.7" x2="417.96" y2="24.2" stroke="#1e1e1e" stroke-width="1.1" />
<line x1="419.79" y1="272.8" x2="419.79" y2="270.3" stroke="#1e1e1e" stroke-width="1.1" />
<line x1="419.79" y1="21.7" x2="419.79" y2="24.2" stroke="#1e1e1e" stroke-width="1.1" />
<line x1="421.41" y1="272.8" x2="421.41" y2="270.3" stroke="#1e1e1e" stroke-width="1.1" />
<line x1="421.41" y1="21.7" x2="421.41" y2="24.2" stroke="#1e1e1e" stroke-width="1.1" />
<line x1="422.85" y1="272.8" x2="422.85" y2="269.3" stroke="#1e1e1e" stroke-width="1.1" />
<line x1="422.85" y1="21.7" x2="422.85" y2="25.2" stroke="#1e1e1e" stroke-width="1.1" />
<line x1="432.35" y1="272.8" x2="432.35" y2="270.3" stroke="#1e1e1e" stroke-width="1.1" />
<line x1="432.35" y1="21.7" x2="432.35" y2="24.2" stroke="#1e1e1e" stroke-width="1.1" />
<line x1="437.9" y1="272.8" x2="437.9" y2="270.3" stroke="#1e1e1e" stroke-width="1.1" />
<line x1="437.9" y1="21.7" x2="437.9" y2="24.2" stroke="#1e1e1e" stroke-width="1.1" />
<line x1="441.84" y1="272.8" x2="441.84" y2="270.3" stroke="#1e1e1e" stroke-width="1.1" />
<line x1="441.84" y1="21.7" x2="441.84" y2="24.2" stroke="#1e1e1e" stroke-width="1.1" />
<line x1="444.9" y1="272.8" x2="444.9" y2="270.3" stroke="#1e1e1e" stroke-width="1.1" />
<line x1="444.9" y1="21.7" x2="444.9" y2="24.2" stroke="#1e1e1e" stroke-width="1.1" />
<line x1="447.4" y1="272.8" x2="447.4" y2="270.3" stroke="#1e1e1e" stroke-width="1.1" />
<line x1="447.4" y1="21.7" x2="447.4" y2="24.2" stroke="#1e1e1e" stroke-width="1.1" />
<line x1="449.51" y1="272.8" x2="449.51" y2="270.3" stroke="#1e1e1e" stroke-width="1.1" />
<line x1="449.51" y1="21.7" x2="449.51" y2="24.2" stroke="#1e1e1e" stroke-width="1.1" />
<line x1="451.34" y1="272.8" x2="451.34" y2="270.3" stroke="#1e1e1e" stroke-width="1.1" />
<line x1="451.34" y1="21.7" x2="451.34" y2="24.2" stroke="#1e1e1e" stroke-width="1.1" />
<line x1="452.96" y1="272.8" x2="452.96" y2="270.3" stroke="#1e1e1e" stroke-width="1.1" />
<line x1="452.96" y1="21.7" x2="452.96" y2="24.2" stroke="#1e1e1e" stroke-width="1.1" />
<line x1="454.4" y1="272.8" x2="454.4" y2="269.3" stroke="#1e1e1e" stroke-width="1.1" />
<line x1="454.4" y1="21.7" x2="454.4" y2="25.2" stroke="#1e1e1e" stroke-width="1.1" />
<line x1="463.9" y1="272.8" x2="463.9" y2="270.3" stroke="#1e1e1e" stroke-width="1.1" />
<line x1="463.9" y1="21.7" x2="463.9" y2="24.2" stroke="#1e1e1e" stroke-width="1.1" />
<line x1="469.45" y1="272.8" x2="469.45" y2="270.3" stroke="#1e1e1e" stroke-width="1.1" />
<line x1="469.45" y1="21.7" x2="469.45" y2="24.2" stroke="#1e1e1e" stroke-width="1.1" />
<line x1="473.39" y1="272.8" x2="473.39" y2="270.3" stroke="#1e1e1e" stroke-width="1.1" />
<line x1="473.39" y1="21.7" x2="473.39" y2="24.2" stroke="#1e1e1e" stroke-width="1.1" />
<line x1="476.45" y1="272.8" x2="476.45" y2="270.3" stroke="#1e1e1e" stroke-width="1.1" />
<line x1="476.45" y1="21.7" x2="476.45" y2="24.2" stroke="#1e1e1e" stroke-width="1.1" />
<line x1="478.95" y1="272.8" x2="478.95" y2="270.3" stroke="#1e1e1e" stroke-width="1.1" />
<line x1="478.95" y1="21.7" x2="478.95" y2="24.2" stroke="#1e1e1e" stroke-width="1.1" />
<line x1="481.06" y1="272.8" x2="481.06" y2="270.3" stroke="#1e1e1e" stroke-width="1.1" />
<line x1="481.06" y1="21.7" x2="481.06" y2="24.2" stroke="#1e1e1e" stroke-width="1.1" />
<line x1="482.89" y1="272.8" x2="482.89" y2="270.3" stroke="#1e1e1e" stroke-width="1.1" />
<line x1="482.89" y1="21.7" x2="482.89" y2="24.2" stroke="#1e1e1e" stroke-width="1.1" />
<line x1="484.51" y1="272.8" x2="484.51" y2="270.3" stroke="#1e1e1e" stroke-width="1.1" />
<line x1="484.51" y1="21.7" x2="484.51" y2="24.2" stroke="#1e1e1e" stroke-width="1.1" />
<line x1="485.95" y1="272.8" x2="485.95" y2="269.3" stroke="#1e1e1e" stroke-width="1.1" />
<line x1="485.95" y1="21.7" x2="485.95" y2="25.2" stroke="#1e1e1e" stroke-width="1.1" />
<line x1="495.45" y1="272.8" x2="495.45" y2="270.3" stroke="#1e1e1e" stroke-width="1.1" />
<line x1="495.45" y1="21.7" x2="495.45" y2="24.2" stroke="#1e1e1e" stroke-width="1.1" />
<line x1="501" y1="272.8" x2="501" y2="270.3" stroke="#1e1e1e" stroke-width="1.1" />
<line x1="501" y1="21.7" x2="501" y2="24.2" stroke="#1e1e1e" stroke-width="1.1" />
<line x1="504.94" y1="272.8" x2="504.94" y2="270.3" stroke="#1e1e1e" stroke-width="1.1" />
<line x1="504.94" y1="21.7" x2="504.94" y2="24.2" stroke="#1e1e1e" stroke-width="1.1" />
<line x1="508" y1="272.8" x2="508" y2="270.3" stroke="#1e1e1e" stroke-width="1.1" />
<line x1="508" y1="21.7" x2="508" y2="24.2" stroke="#1e1e1e" stroke-width="1.1" />
<line x1="510.5" y1="272.8" x2="510.5" y2="270.3" stroke="#1e1e1e" stroke-width="1.1" />
<line x1="510.5" y1="21.7" x2="510.5" y2="24.2" stroke="#1e1e1e" stroke-width="1.1" />
<line x1="512.61" y1="272.8" x2="512.61" y2="270.3" stroke="#1e1e1e" stroke-width="1.1" />
<line x1="512.61" y1="21.7" x2="512.61" y2="24.2" stroke="#1e1e1e" stroke-width="1.1" />
<line x1="514.44" y1="272.8" x2="514.44" y2="270.3" stroke="#1e1e1e" stroke-width="1.1" />
<line x1="514.44" y1="21.7" x2="514.44" y2="24.2" stroke="#1e1e1e" stroke-width="1.1" />
<line x1="516.06" y1="272.8" x2="516.06" y2="270.3" stroke="#1e1e1e" stroke-width="1.1" />
<line x1="516.06" y1="21.7" x2="516.06" y2="24.2" stroke="#1e1e1e" stroke-width="1.1" />
<line x1="517.5" y1="272.8" x2="517.5" y2="269.3" stroke="#1e1e1e" stroke-width="1.1" />
<line x1="517.5" y1="21.7" x2="517.5" y2="25.2" stroke="#1e1e1e" stroke-width="1.1" />
<line x1="527" y1="272.8" x2="527" y2="270.3" stroke="#1e1e1e" stroke-width="1.1" />
<line x1="527" y1="21.7" x2="527" y2="24.2" stroke="#1e1e1e" stroke-width="1.1" />
<line x1="532.55" y1="272.8" x2="532.55" y2="270.3" stroke="#1e1e1e" stroke-width="1.1" />
<line x1="532.55" y1="21.7" x2="532.55" y2="24.2" stroke="#1e1e1e" stroke-width="1.1" />
<line x1="536.49" y1="272.8" x2="536.49" y2="270.3" stroke="#1e1e1e" stroke-width="1.1" />
<line x1="536.49" y1="21.7" x2="536.49" y2="24.2" stroke="#1e1e1e" stroke-width="1.1" />
<line x1="539.55" y1="272.8" x2="539.55" y2="270.3" stroke="#1e1e1e" stroke-width="1.1" />
<line x1="539.55" y1="21.7" x2="539.55" y2="24.2" stroke="#1e1e1e" stroke-width="1.1" />
<line x1="542.05" y1="272.8" x2="542.05" y2="270.3" stroke="#1e1e1e" stroke-width="1.1" />
<line x1="542.05" y1="21.7" x2="542.05" y2="24.2" stroke="#1e1e1e" stroke-width="1.1" />
<line x1="544.16" y1="272.8" x2="544.16" y2="270.3" stroke="#1e1e1e" stroke-width="1.1" />
<line x1="544.16" y1="21.7" x2="544.16" y2="24.2" stroke="#1e1e1e" stroke-width="1.1" />
<line x1="545.99" y1="272.8" x2="545.99" y2="270.3" stroke="#1e1e1e" stroke-width="1.1" />
<line x1="545.99" y1="21.7" x2="545.99" y2="24.2" stroke="#1e1e1e" stroke-width="1.1" />
<line x1="547.61" y1="272.8" x2="547.61" y2="270.3" stroke="#1e1e1e" stroke-width="1.1" />
<line x1="547.61" y1="21.7" x2="547.61" y2="24.2" stroke="#1e1e1e" stroke-width="1.1" />
<line x1="549.05" y1="272.8" x2="549.05" y2="269.3" stroke="#1e1e1e" stroke-width="1.1" />
<line x1="549.05" y1="21.7" x2="549.05" y2="25.2" stroke="#1e1e1e" stroke-width="1.1" />
<line x1="558.55" y1="272.8" x2="558.55" y2="270.3" stroke="#1e1e1e" stroke-width="1.1" />
<line x1="558.55" y1="21.7" x2="558.55" y2="24.2" stroke="#1e1e1e" stroke-width="1.1" />
<line x1="564.1" y1="272.8" x2="564.1" y2="270.3" stroke="#1e1e1e" stroke-width="1.1" />
<line x1="564.1" y1="21.7" x2="564.1" y2="24.2" stroke="#1e1e1e" stroke-width="1.1" />
<line x1="568.04" y1="272.8" x2="568.04" y2="270.3" stroke="#1e1e1e" stroke-width="1.1" />
<line x1="568.04" y1="21.7" x2="568.04" y2="24.2" stroke="#1e1e1e" stroke-width="1.1" />
<line x1="571.1" y1="272.8" x2="571.1" y2="270.3" stroke="#1e1e1e" stroke-width="1.1" />
<line x1="571.1" y1="21.7" x2="571.1" y2="24.2" stroke="#1e1e1e" stroke-width="1.1" />
<line x1="573.6" y1="272.8" x2="573.6" y2="270.3" stroke="#1e1e1e" stroke-width="1.1" />
<line x1="573.6" y1="21.7" x2="573.6" y2="24.2" stroke="#1e1e1e" stroke-width="1.1" />
<line x1="575.71" y1="272.8" x2="575.71" y2="270.3" stroke="#1e1e1e" stroke-width="1.1" />
<line x1="575.71" y1="21.7" x2="575.71" y2="24.2" stroke="#1e1e1e" stroke-width="1.1" />
<line x1="577.54" y1="272.8" x2="577.54" y2="270.3" stroke="#1e1e1e" stroke-width="1.1" />
<line x1="577.54" y1="21.7" x2="577.54" y2="24.2" stroke="#1e1e1e" stroke-width="1.1" />
<line x1="579.16" y1="272.8" x2="579.16" y2="270.3" stroke="#1e1e1e" stroke-width="1.1" />
<line x1="579.16" y1="21.7" x2="579.16" y2="24.2" stroke="#1e1e1e" stroke-width="1.1" />
<line x1="580.6" y1="272.8" x2="580.6" y2="269.3" stroke="#1e1e1e" stroke-width="1.1" />
<line x1="580.6" y1="21.7" x2="580.6" y2="25.2" stroke="#1e1e1e" stroke-width="1.1" />
<line x1="590.1" y1="272.8" x2="590.1" y2="270.3" stroke="#1e1e1e" stroke-width="1.1" />
<line x1="590.1" y1="21.7" x2="590.1" y2="24.2" stroke="#1e1e1e" stroke-width="1.1" />
<line x1="595.65" y1="272.8" x2="595.65" y2="270.3" stroke="#1e1e1e" stroke-width="1.1" />
<line x1="595.65" y1="21.7" x2="595.65" y2="24.2" stroke="#1e1e1e" stroke-width="1.1" />
<line x1="599.59" y1="272.8" x2="599.59" y2="270.3" stroke="#1e1e1e" stroke-width="1.1" />
<line x1="599.59" y1="21.7" x2="599.59" y2="24.2" stroke="#1e1e1e" stroke-width="1.1" />
<line x1="602.65" y1="272.8" x2="602.65" y2="270.3" stroke="#1e1e1e" stroke-width="1.1" />
<line x1="602.65" y1="21.7" x2="602.65" y2="24.2" stroke="#1e1e1e" stroke-width="1.1" />
<line x1="605.15" y1="272.8" x2="605.15" y2="270.3" stroke="#1e1e1e" stroke-width="1.1" />
<line x1="605.15" y1="21.7" x2="605.15" y2="24.2" stroke="#1e1e1e" stroke-width="1.1" />
<line x1="607.26" y1="272.8" x2="607.26" y2="270.3" stroke="#1e1e1e" stroke-width="1.1" />
<line x1="607.26" y1="21.7" x2="607.26" y2="24.2" stroke="#1e1e1e" stroke-width="1.1" />
<line x1="609.09" y1="272.8" x2="609.09" y2="270.3" stroke="#1e1e1e" stroke-width="1.1" />
<line x1="609.09" y1="21.7" x2="609.09" y2="24.2" stroke="#1e1e1e" stroke-width="1.1" />
<line x1="610.71" y1="272.8" x2="610.71" y2="270.3" stroke="#1e1e1e" stroke-width="1.1" />
<line x1="610.71" y1="21.7" x2="610.71" y2="24.2" stroke="#1e1e1e" stroke-width="1.1" />
<line x1="612.15" y1="272.8" x2="612.15" y2="269.3" stroke="#1e1e1e" stroke-width="1.1" />
<line x1="612.15" y1="21.7" x2="612.15" y2="25.2" stroke="#1e1e1e" stroke-width="1.1" />
<line x1="621.65" y1="272.8" x2="621.65" y2="270.3" stroke="#1e1e1e" stroke-width="1.1" />
<line x1="621.65" y1="21.7" x2="621.65" y2="24.2" stroke="#1e1e1e" stroke-width="1.1" />
<line x1="627.2" y1="272.8" x2="627.2" y2="270.3" stroke="#1e1e1e" stroke-width="1.1" />
<line x1="627.2" y1="21.7" x2="627.2" y2="24.2" stroke="#1e1e1e" stroke-width="1.1" />
<line x1="631.14" y1="272.8" x2="631.14" y2="270.3" stroke="#1e1e1e" stroke-width="1.1" />
<line x1="631.14" y1="21.7" x2="631.14" y2="24.2" stroke="#1e1e1e" stroke-width="1.1" />
<line x1="634.2" y1="272.8" x2="634.2" y2="270.3" stroke="#1e1e1e" stroke-width="1.1" />
<line x1="634.2" y1="21.7" x2="634.2" y2="24.2" stroke="#1e1e1e" stroke-width="1.1" />
<line x1="636.7" y1="272.8" x2="636.7" y2="270.3" stroke="#1e1e1e" stroke-width="1.1" />
<line x1="636.7" y1="21.7" x2="636.7" y2="24.2" stroke="#1e1e1e" stroke-width="1.1" />
<line x1="638.81" y1="272.8" x2="638.81" y2="270.3" stroke="#1e1e1e" stroke-width="1.1" />
<line x1="638.81" y1="21.7" x2="638.81" y2="24.2" stroke="#1e1e1e" stroke-width="1.1" />
<line x1="640.64" y1="272.8" x2="640.64" y2="270.3" stroke="#1e1e1e" stroke-width="1.1" />
<line x1="640.64" y1="21.7" x2="640.64" y2="24.2" stroke="#1e1e1e" stroke-width="1.1" />
<line x1="642.26" y1="272.8" x2="642.26" y2="270.3" stroke="#1e1e1e" stroke-width="1.1" />
<line x1="642.26" y1="21.7" x2="642.26" y2="24.2" stroke="#1e1e1e" stroke-width="1.1" />
<line x1="643.7" y1="272.8" x2="643.7" y2="269.3" stroke="#1e1e1e" stroke-width="1.1" />
<line x1="643.7" y1="21.7" x2="643.7" y2="25.2" stroke="#1e1e1e" stroke-width="1.1" />
<line x1="653.2" y1="272.8" x2="653.2" y2="270.3" stroke="#1e1e1e" stroke-width="1.1" />
<line x1="653.2" y1="21.7" x2="653.2" y2="24.2" stroke="#1e1e1e" stroke-width="1.1" />
<line x1="658.75" y1="272.8" x2="658.75" y2="270.3" stroke="#1e1e1e" stroke-width="1.1" />
<line x1="658.75" y1="21.7" x2="658.75" y2="24.2" stroke="#1e1e1e" stroke-width="1.1" />
<line x1="662.69" y1="272.8" x2="662.69" y2="270.3" stroke="#1e1e1e" stroke-width="1.1" />
<line x1="662.69" y1="21.7" x2="662.69" y2="24.2" stroke="#1e1e1e" stroke-width="1.1" />
<line x1="665.75" y1="272.8" x2="665.75" y2="270.3" stroke="#1e1e1e" stroke-width="1.1" />
<line x1="665.75" y1="21.7" x2="665.75" y2="24.2" stroke="#1e1e1e" stroke-width="1.1" />
<line x1="668.25" y1="272.8" x2="668.25" y2="270.3" stroke="#1e1e1e" stroke-width="1.1" />
<line x1="668.25" y1="21.7" x2="668.25" y2="24.2" stroke="#1e1e1e" stroke-width="1.1" />
<line x1="670.36" y1="272.8" x2="670.36" y2="270.3" stroke="#1e1e1e" stroke-width="1.1" />
<line x1="670.36" y1="21.7" x2="670.36" y2="24.2" stroke="#1e1e1e" stroke-width="1.1" />
<line x1="672.19" y1="272.8" x2="672.19" y2="270.3" stroke="#1e1e1e" stroke-width="1.1" />
<line x1="672.19" y1="21.7" x2="672.19" y2="24.2" stroke="#1e1e1e" stroke-width="1.1" />
<line x1="673.81" y1="272.8" x2="673.81" y2="270.3" stroke="#1e1e1e" stroke-width="1.1" />
<line x1="673.81" y1="21.7" x2="673.81" y2="24.2" stroke="#1e1e1e" stroke-width="1.1" />
<line x1="675.25" y1="272.8" x2="675.25" y2="269.3" stroke="#1e1e1e" stroke-width="1.1" />
<line x1="675.25" y1="21.7" x2="675.25" y2="25.2" stroke="#1e1e1e" stroke-width="1.1" />
<line x1="374.8" y1="231.1" x2="377.8" y2="231.1" stroke="#1e1e1e" stroke-width="1.5" />
<line x1="683.5" y1="231.1" x2="680.5" y2="231.1" stroke="#1e1e1e" stroke-width="1.5" />
<line x1="374.8" y1="196.2" x2="377.8" y2="196.2" stroke="#1e1e1e" stroke-width="1.5" />
<line x1="683.5" y1="196.2" x2="680.5" y2="196.2" stroke="#1e1e1e" stroke-width="1.5" />
<line x1="374.8" y1="161.3" x2="377.8" y2="161.3" stroke="#1e1e1e" stroke-width="1.5" />
<line x1="683.5" y1="161.3" x2="680.5" y2="161.3" stroke="#1e1e1e" stroke-width="1.5" />
<line x1="374.8" y1="126.4" x2="377.8" y2="126.4" stroke="#1e1e1e" stroke-width="1.5" />
<line x1="683.5" y1="126.4" x2="680.5" y2="126.4" stroke="#1e1e1e" stroke-width="1.5" />
<line x1="374.8" y1="91.5" x2="377.8" y2="91.5" stroke="#1e1e1e" stroke-width="1.5" />
<line x1="683.5" y1="91.5" x2="680.5" y2="91.5" stroke="#1e1e1e" stroke-width="1.5" />
<line x1="374.8" y1="56.6" x2="377.8" y2="56.6" stroke="#1e1e1e" stroke-width="1.5" />
<line x1="683.5" y1="56.6" x2="680.5" y2="56.6" stroke="#1e1e1e" stroke-width="1.5" />
<rect x="374.8" y="21.7" width="308.7" height="251.1" fill="none" stroke="#1e1e1e" stroke-width="1.2"/>
<text x="370" y="234.7" font-size="10" text-anchor="end" fill="#222" stroke="#222" >5</text>
<text x="370" y="199.8" font-size="10" text-anchor="end" fill="#222" stroke="#222" >10</text>
<text x="370" y="164.9" font-size="10" text-anchor="end" fill="#222" stroke="#222" >15</text>
<text x="370" y="130" font-size="10" text-anchor="end" fill="#222" stroke="#222" >20</text>
<text x="370" y="95.1" font-size="10" text-anchor="end" fill="#222" stroke="#222" >25</text>
<text x="370" y="60.2" font-size="10" text-anchor="end" fill="#222" stroke="#222" >30</text>
<text x="381.75" y="288" font-size="10" fill="#222">10<tspan font-size="7" dy="-4.6">−8</tspan></text>
<text x="444.85" y="288" font-size="10" fill="#222">10<tspan font-size="7" dy="-4.6">−6</tspan></text>
<text x="507.95" y="288" font-size="10" fill="#222">10<tspan font-size="7" dy="-4.6">−4</tspan></text>
<text x="571.05" y="288" font-size="10" fill="#222">10<tspan font-size="7" dy="-4.6">−2</tspan></text>
<text x="636.19" y="288" font-size="10" fill="#222">10<tspan font-size="7" dy="-4.6">0</tspan></text>
<text x="530" y="302.5" font-size="10.2" text-anchor="middle" fill="#222" stroke="#222" >Green laser power (mW)</text>
<text x="0" y="0" font-size="10.2" text-anchor="middle" fill="#222" stroke="#222" transform="translate(349.0 147.4) rotate(-90)">Tunability in green spectrum (nm)</text>
<rect x="402.5" y="45.3" width="131" height="77.8" fill="#fff" stroke="#1e1e1e" stroke-width="1.1"/>
<circle cx="426" cy="56" r="4.9" fill="#1bb3e3"/>
<text x="435.4" y="59.2" font-size="9" fill="#222">THG with </text>
<text x="475.4" y="59.5" font-size="9.5" fill="#222">χ</text>
<text x="480.4" y="55.6" font-size="6" fill="#222">(3)</text>
<text x="480.7" y="62.6" font-size="6" fill="#222">int</text>
<circle cx="426" cy="74.72" r="4.9" fill="#4cae4a"/>
<text x="435.4" y="77.92" font-size="9" fill="#222">OPO with </text>
<text x="476.41" y="78.22" font-size="9.5" fill="#222">χ</text>
<text x="481.41" y="74.32" font-size="6" fill="#222">(3)</text>
<text x="481.71" y="81.32" font-size="6" fill="#222">int</text>
<circle cx="426" cy="93.44" r="4.9" fill="#b79128"/>
<text x="435.4" y="96.64" font-size="9" fill="#222">SHG/SFG with </text>
<text x="496.91" y="96.94" font-size="9.5" fill="#222">χ</text>
<text x="501.91" y="93.04" font-size="6" fill="#222">(2)</text>
<text x="502.21" y="100.04" font-size="6" fill="#222">int</text>
<circle cx="426" cy="112.16" r="4.9" fill="#ef7b73"/>
<text x="435.4" y="115.36" font-size="9" fill="#222">SHG/SFG with </text>
<text x="496.91" y="115.66" font-size="9.5" fill="#222">χ</text>
<text x="501.91" y="111.76" font-size="6" fill="#222">(2)</text>
<text x="502.21" y="118.76" font-size="6" fill="#222">eff</text>
<text x="389.8" y="208.4" font-size="9" fill="#222">Si WG</text>
<text x="416.3" y="204.4" font-size="6.3" font-weight="bold" fill="#1bb3e3">7</text>
<text x="389.8" y="220.6" font-size="9" fill="#222">Si</text>
<text x="397.8" y="223.5" font-size="6" fill="#222">3</text>
<text x="401.14" y="220.6" font-size="9" fill="#222">N</text>
<text x="407.64" y="223.5" font-size="6" fill="#222">4</text>
<text x="410.98" y="220.6" font-size="9" fill="#222"> ring</text>
<text x="428.98" y="216.6" font-size="6.3" font-weight="bold" fill="#1bb3e3">9</text>
<text x="389.8" y="232.7" font-size="9" fill="#222">AlN ring</text>
<text x="422.31" y="228.7" font-size="6.3" font-weight="bold" fill="#1bb3e3">11</text>
<text x="490.4" y="233.7" font-size="9" fill="#222">Si</text>
<text x="498.4" y="236.6" font-size="6" fill="#222">3</text>
<text x="501.74" y="233.7" font-size="9" fill="#222">N</text>
<text x="508.24" y="236.6" font-size="6" fill="#222">4</text>
<text x="511.58" y="233.7" font-size="9" fill="#222"> WG</text>
<text x="530.07" y="229.7" font-size="6.3" font-weight="bold" fill="#1bb3e3">8</text>
<text x="490.4" y="245.5" font-size="9" fill="#222">Si</text>
<text x="498.4" y="248.4" font-size="6" fill="#222">3</text>
<text x="501.74" y="245.5" font-size="9" fill="#222">N</text>
<text x="508.24" y="248.4" font-size="6" fill="#222">4</text>
<text x="511.58" y="245.5" font-size="9" fill="#222"> ring</text>
<text x="529.58" y="241.5" font-size="6.3" font-weight="bold" fill="#4cae4a">13</text>
<text x="560" y="228.1" font-size="9" fill="#222">Si</text>
<text x="568" y="231" font-size="6" fill="#222">3</text>
<text x="571.34" y="228.1" font-size="9" fill="#222">N</text>
<text x="577.84" y="231" font-size="6" fill="#222">4</text>
<text x="581.18" y="228.1" font-size="9" fill="#222"> WG</text>
<text x="599.67" y="224.1" font-size="6.3" font-weight="bold" fill="#ef7b73">17,20</text>
<text x="560" y="239.9" font-size="9" fill="#222">Si</text>
<text x="568" y="242.8" font-size="6" fill="#222">3</text>
<text x="571.34" y="239.9" font-size="9" fill="#222">N</text>
<text x="577.84" y="242.8" font-size="6" fill="#222">4</text>
<text x="581.18" y="239.9" font-size="9" fill="#222"> ring</text>
<text x="599.18" y="235.9" font-size="6.3" font-weight="bold" fill="#4cae4a">14</text>
<text x="560" y="251.6" font-size="9" fill="#222">Si</text>
<text x="568" y="254.5" font-size="6" fill="#222">3</text>
<text x="571.34" y="251.6" font-size="9" fill="#222">N</text>
<text x="577.84" y="254.5" font-size="6" fill="#222">4</text>
<text x="581.18" y="251.6" font-size="9" fill="#222">/AlN ring</text>
<text x="616.19" y="247.6" font-size="6.3" font-weight="bold" fill="#1bb3e3">12</text>
<text x="633.1" y="243.4" font-size="9" fill="#222">TFLT WG</text>
<text x="672.26" y="239.4" font-size="6.3" font-weight="bold" fill="#b79128">19</text>
<text x="596.9" y="175.6" font-size="9" fill="#222">Si</text>
<text x="604.9" y="178.5" font-size="6" fill="#222">3</text>
<text x="608.24" y="175.6" font-size="9" fill="#222">N</text>
<text x="614.74" y="178.5" font-size="6" fill="#222">4</text>
<text x="618.08" y="175.6" font-size="9" fill="#222"> ring</text>
<text x="636.08" y="171.6" font-size="6.3" font-weight="bold" fill="#1bb3e3">10</text>
<text x="596.9" y="187.5" font-size="9" fill="#222">TFLN ring</text>
<text x="637.41" y="183.5" font-size="6.3" font-weight="bold" fill="#b79128">16</text>
<text x="555.6" y="86.9" font-size="9" fill="#222">Si</text>
<text x="563.6" y="89.8" font-size="6" fill="#222">3</text>
<text x="566.94" y="86.9" font-size="9" fill="#222">N</text>
<text x="573.44" y="89.8" font-size="6" fill="#222">4</text>
<text x="576.78" y="86.9" font-size="9" fill="#222"> ring</text>
<text x="594.78" y="82.9" font-size="6.3" font-weight="bold" fill="#4cae4a">15</text>
<text x="635.7" y="80.3" font-size="9" fill="#dc3a40">[this work]</text>
<text x="639" y="94.2" font-size="9" fill="#dc3a40">Si</text>
<text x="647" y="97.1" font-size="6" fill="#dc3a40">3</text>
<text x="650.34" y="94.2" font-size="9" fill="#dc3a40">N</text>
<text x="656.84" y="97.1" font-size="6" fill="#dc3a40">4</text>
<text x="660.18" y="94.2" font-size="9" fill="#dc3a40"> ring</text>
<circle cx="391.2" cy="252.2" r="5.1" fill="#1bb3e3"/>
<circle cx="391.2" cy="265.8" r="5.1" fill="#1bb3e3"/>
<circle cx="413.5" cy="249.8" r="5.1" fill="#1bb3e3"/>
<circle cx="522.9" cy="259" r="5.1" fill="#1bb3e3"/>
<circle cx="614.8" cy="202.6" r="5.1" fill="#1bb3e3"/>
<circle cx="601.2" cy="265.8" r="5.1" fill="#1bb3e3"/>
<circle cx="611.8" cy="70.1" r="5.1" fill="#4cae4a"/>
<circle cx="540" cy="266" r="5.1" fill="#4cae4a"/>
<circle cx="579.9" cy="265.8" r="5.1" fill="#4cae4a"/>
<circle cx="628.1" cy="210" r="5.1" fill="#b79128"/>
<circle cx="652" cy="264.6" r="5.1" fill="#b79128"/>
<circle cx="588.4" cy="265.8" r="5.1" fill="#ef7b73"/>
<circle cx="602.9" cy="265.8" r="5.1" fill="#ef7b73"/>
<path d="M660.3 56.1 L662.01 61.35 L667.53 61.35 L663.06 64.6 L664.77 69.85 L660.3 66.6 L655.83 69.85 L657.54 64.6 L653.07 61.35 L658.59 61.35 Z" fill="#dc3a40"/>
</svg></body></html>
